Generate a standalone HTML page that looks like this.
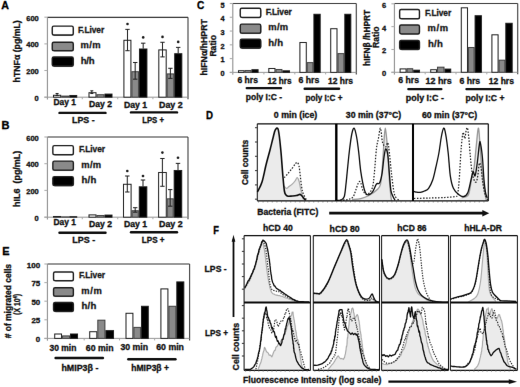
<!DOCTYPE html>
<html><head><meta charset="utf-8"><title>figure</title>
<style>html,body{margin:0;padding:0;background:#fff;}body{width:520px;height:387px;overflow:hidden;}</style>
</head><body><div>
<svg width="520" height="387" viewBox="0 0 520 387" style="font-family:'Liberation Sans', sans-serif;display:block">
<defs><g id="content">
<rect x="-10" y="-10" width="540" height="407" fill="#fff"/>
<text x="1.2" y="9.4" font-size="10.8" font-weight="bold" fill="#000" stroke="#000" stroke-width="0.3" textLength="7.7" lengthAdjust="spacingAndGlyphs" >A</text>
<text x="1.6" y="129.0" font-size="10.8" font-weight="bold" fill="#000" stroke="#000" stroke-width="0.3" textLength="8.0" lengthAdjust="spacingAndGlyphs" >B</text>
<text x="2.3" y="255.3" font-size="10.8" font-weight="bold" fill="#000" stroke="#000" stroke-width="0.3" textLength="7.3" lengthAdjust="spacingAndGlyphs" >E</text>
<text x="197.0" y="9.3" font-size="10.8" font-weight="bold" fill="#000" stroke="#000" stroke-width="0.3" textLength="7.3" lengthAdjust="spacingAndGlyphs" >C</text>
<text x="206.0" y="119.4" font-size="10.8" font-weight="bold" fill="#000" stroke="#000" stroke-width="0.3" textLength="7.0" lengthAdjust="spacingAndGlyphs" >D</text>
<text x="213.3" y="234.3" font-size="10.8" font-weight="bold" fill="#000" stroke="#000" stroke-width="0.3" textLength="5.7" lengthAdjust="spacingAndGlyphs" >F</text>
<line x1="47.4" y1="17.3" x2="188" y2="17.3" stroke="#3a3a3a" stroke-width="1.2" />
<line x1="188" y1="17.3" x2="188" y2="99.2" stroke="#444" stroke-width="1.1" />
<line x1="47.4" y1="17.3" x2="47.4" y2="99.5" stroke="#8a8a8a" stroke-width="1" />
<line x1="44.4" y1="97.2" x2="188" y2="97.2" stroke="#999" stroke-width="1" />
<line x1="44.4" y1="17.2" x2="47.4" y2="17.2" stroke="#aaa" stroke-width="1" />
<line x1="44.4" y1="43.9" x2="47.4" y2="43.9" stroke="#aaa" stroke-width="1" />
<line x1="44.4" y1="70.5" x2="47.4" y2="70.5" stroke="#aaa" stroke-width="1" />
<line x1="44.4" y1="97.2" x2="47.4" y2="97.2" stroke="#aaa" stroke-width="1" />
<line x1="82.3" y1="97.2" x2="82.3" y2="99.2" stroke="#aaa" stroke-width="1" />
<line x1="117.7" y1="97.2" x2="117.7" y2="99.2" stroke="#aaa" stroke-width="1" />
<line x1="152.9" y1="97.2" x2="152.9" y2="99.2" stroke="#aaa" stroke-width="1" />
<text x="26.2" y="21.0" font-size="7.6" font-weight="bold" fill="#111" stroke="#111" stroke-width="0.3" textLength="12.6" lengthAdjust="spacingAndGlyphs" >600</text>
<text x="26.2" y="47.1" font-size="7.6" font-weight="bold" fill="#111" stroke="#111" stroke-width="0.3" textLength="12.6" lengthAdjust="spacingAndGlyphs" >400</text>
<text x="26.2" y="74.2" font-size="7.6" font-weight="bold" fill="#111" stroke="#111" stroke-width="0.3" textLength="12.6" lengthAdjust="spacingAndGlyphs" >200</text>
<text x="34.6" y="100.8" font-size="7.6" font-weight="bold" fill="#111" stroke="#111" stroke-width="0.3" textLength="4.2" lengthAdjust="spacingAndGlyphs" >0</text>
<text transform="translate(19.9,82.4) rotate(-90)" x="0" y="0" font-size="8.6" font-weight="bold" fill="#111" stroke="#111" stroke-width="0.3" textLength="62.1" lengthAdjust="spacingAndGlyphs">hTNFα (pg/mL)</text>
<rect x="52.70" y="26.80" width="21.00" height="9.00" fill="#555" rx="1.8"/>
<rect x="52.25" y="26.15" width="21.00" height="8.80" fill="#fff" stroke="#222" stroke-width="1.4" rx="1.5"/>
<rect x="52.70" y="42.90" width="21.00" height="8.60" fill="#555" rx="1.8"/>
<rect x="52.25" y="42.25" width="21.00" height="8.40" fill="#8a8a8a" stroke="#222" stroke-width="1.4" rx="1.5"/>
<rect x="52.70" y="57.60" width="21.00" height="9.30" fill="#555" rx="1.8"/>
<rect x="52.25" y="56.95" width="21.00" height="9.10" fill="#000" stroke="#222" stroke-width="1.4" rx="1.5"/>
<text x="78.0" y="32.7" font-size="8.4" font-weight="bold" fill="#1a1a1a" stroke="#1a1a1a" stroke-width="0.3" textLength="26.2" lengthAdjust="spacing">F.Liver</text>
<text x="80.4" y="48.4" font-size="9.4" font-weight="bold" fill="#1a1a1a" stroke="#1a1a1a" stroke-width="0.3" textLength="20.2" lengthAdjust="spacing">m/m</text>
<text x="80.7" y="63.9" font-size="9.6" font-weight="bold" fill="#1a1a1a" stroke="#1a1a1a" stroke-width="0.3" textLength="13.9" lengthAdjust="spacing">h/h</text>
<rect x="53.50" y="95.30" width="7.20" height="1.90" fill="#fff" stroke="#222" stroke-width="1"/>
<rect x="61.70" y="96.10" width="7.10" height="1.10" fill="#8a8a8a" stroke="#444" stroke-width="1"/>
<rect x="69.80" y="95.50" width="6.90" height="1.70" fill="#000" stroke="#222" stroke-width="1"/>
<rect x="89.00" y="92.70" width="7.00" height="4.50" fill="#fff" stroke="#222" stroke-width="1"/>
<rect x="97.00" y="94.70" width="7.00" height="2.50" fill="#8a8a8a" stroke="#444" stroke-width="1"/>
<rect x="105.00" y="94.10" width="7.00" height="3.10" fill="#000" stroke="#222" stroke-width="1"/>
<rect x="123.90" y="40.30" width="7.00" height="56.90" fill="#fff" stroke="#222" stroke-width="1"/>
<rect x="131.90" y="71.70" width="6.60" height="25.50" fill="#8a8a8a" stroke="#444" stroke-width="1"/>
<rect x="139.50" y="49.00" width="7.40" height="48.20" fill="#000" stroke="#222" stroke-width="1"/>
<rect x="158.80" y="49.90" width="7.40" height="47.30" fill="#fff" stroke="#222" stroke-width="1"/>
<rect x="167.20" y="73.90" width="6.50" height="23.30" fill="#8a8a8a" stroke="#444" stroke-width="1"/>
<rect x="174.70" y="53.70" width="7.10" height="43.50" fill="#000" stroke="#222" stroke-width="1"/>
<line x1="127.5" y1="29.4" x2="127.5" y2="50.7" stroke="#222" stroke-width="1" />
<line x1="125.3" y1="29.4" x2="129.7" y2="29.4" stroke="#222" stroke-width="1" />
<line x1="125.3" y1="50.7" x2="129.7" y2="50.7" stroke="#222" stroke-width="1" />
<circle cx="127.5" cy="24.0" r="1.3" fill="#222"/>
<line x1="135.2" y1="62.5" x2="135.2" y2="79.2" stroke="#222" stroke-width="1" />
<line x1="133.0" y1="62.5" x2="137.39999999999998" y2="62.5" stroke="#222" stroke-width="1" />
<line x1="133.0" y1="79.2" x2="137.39999999999998" y2="79.2" stroke="#222" stroke-width="1" />
<line x1="143.2" y1="43.2" x2="143.2" y2="48.6" stroke="#222" stroke-width="1" />
<line x1="141.0" y1="43.2" x2="145.39999999999998" y2="43.2" stroke="#222" stroke-width="1" />
<circle cx="143.2" cy="37.4" r="1.3" fill="#222"/>
<line x1="162.5" y1="42.3" x2="162.5" y2="56.9" stroke="#222" stroke-width="1" />
<line x1="160.3" y1="42.3" x2="164.7" y2="42.3" stroke="#222" stroke-width="1" />
<line x1="160.3" y1="56.9" x2="164.7" y2="56.9" stroke="#222" stroke-width="1" />
<circle cx="162.5" cy="36.9" r="1.3" fill="#222"/>
<line x1="170.4" y1="68.3" x2="170.4" y2="78.4" stroke="#222" stroke-width="1" />
<line x1="168.20000000000002" y1="68.3" x2="172.6" y2="68.3" stroke="#222" stroke-width="1" />
<line x1="168.20000000000002" y1="78.4" x2="172.6" y2="78.4" stroke="#222" stroke-width="1" />
<line x1="178.2" y1="47.4" x2="178.2" y2="53.3" stroke="#222" stroke-width="1" />
<line x1="176.0" y1="47.4" x2="180.39999999999998" y2="47.4" stroke="#222" stroke-width="1" />
<circle cx="178.2" cy="41.9" r="1.3" fill="#222"/>
<line x1="57.1" y1="93.5" x2="57.1" y2="95.5" stroke="#222" stroke-width="1" />
<line x1="55.6" y1="93.5" x2="58.6" y2="93.5" stroke="#222" stroke-width="1" />
<line x1="55.6" y1="95.5" x2="58.6" y2="95.5" stroke="#222" stroke-width="1" />
<line x1="91.8" y1="90.8" x2="91.8" y2="93.5" stroke="#222" stroke-width="1" />
<line x1="90.3" y1="90.8" x2="93.3" y2="90.8" stroke="#222" stroke-width="1" />
<line x1="90.3" y1="93.5" x2="93.3" y2="93.5" stroke="#222" stroke-width="1" />
<text x="53.5" y="105.2" font-size="8.6" font-weight="bold" fill="#111" stroke="#111" stroke-width="0.3" textLength="22.5" lengthAdjust="spacingAndGlyphs" >Day 1</text>
<text x="89.0" y="107.2" font-size="8.6" font-weight="bold" fill="#111" stroke="#111" stroke-width="0.3" textLength="23.0" lengthAdjust="spacingAndGlyphs" >Day 2</text>
<text x="124.0" y="107.6" font-size="8.6" font-weight="bold" fill="#111" stroke="#111" stroke-width="0.3" textLength="23.2" lengthAdjust="spacingAndGlyphs" >Day 1</text>
<text x="159.0" y="107.6" font-size="8.6" font-weight="bold" fill="#111" stroke="#111" stroke-width="0.3" textLength="23.6" lengthAdjust="spacingAndGlyphs" >Day 2</text>
<line x1="59.5" y1="112.9" x2="105.5" y2="112.9" stroke="#111" stroke-width="2.4" stroke-linecap="round"/>
<line x1="131" y1="112.4" x2="177" y2="112.4" stroke="#111" stroke-width="2.4" stroke-linecap="round"/>
<text x="72.0" y="123.2" font-size="8.6" font-weight="bold" fill="#111" stroke="#111" stroke-width="0.3" textLength="22.6" lengthAdjust="spacingAndGlyphs" >LPS -</text>
<text x="142.2" y="123.0" font-size="8.6" font-weight="bold" fill="#111" stroke="#111" stroke-width="0.3" textLength="21.8" lengthAdjust="spacingAndGlyphs" >LPS +</text>
<line x1="47.4" y1="137.0" x2="188" y2="137.0" stroke="#3a3a3a" stroke-width="1.2" />
<line x1="188" y1="137.0" x2="188" y2="219.2" stroke="#444" stroke-width="1.1" />
<line x1="47.4" y1="137.0" x2="47.4" y2="219.5" stroke="#8a8a8a" stroke-width="1" />
<line x1="44.4" y1="217.2" x2="188" y2="217.2" stroke="#999" stroke-width="1" />
<line x1="44.4" y1="137.0" x2="47.4" y2="137.0" stroke="#aaa" stroke-width="1" />
<line x1="44.4" y1="163.7" x2="47.4" y2="163.7" stroke="#aaa" stroke-width="1" />
<line x1="44.4" y1="190.4" x2="47.4" y2="190.4" stroke="#aaa" stroke-width="1" />
<line x1="44.4" y1="217.2" x2="47.4" y2="217.2" stroke="#aaa" stroke-width="1" />
<line x1="82.3" y1="217.2" x2="82.3" y2="219.2" stroke="#aaa" stroke-width="1" />
<line x1="117.7" y1="217.2" x2="117.7" y2="219.2" stroke="#aaa" stroke-width="1" />
<line x1="152.9" y1="217.2" x2="152.9" y2="219.2" stroke="#aaa" stroke-width="1" />
<text x="26.2" y="140.5" font-size="7.6" font-weight="bold" fill="#111" stroke="#111" stroke-width="0.3" textLength="12.6" lengthAdjust="spacingAndGlyphs" >600</text>
<text x="26.2" y="166.6" font-size="7.6" font-weight="bold" fill="#111" stroke="#111" stroke-width="0.3" textLength="12.6" lengthAdjust="spacingAndGlyphs" >400</text>
<text x="26.2" y="194.3" font-size="7.6" font-weight="bold" fill="#111" stroke="#111" stroke-width="0.3" textLength="12.6" lengthAdjust="spacingAndGlyphs" >200</text>
<text x="34.6" y="220.8" font-size="7.6" font-weight="bold" fill="#111" stroke="#111" stroke-width="0.3" textLength="4.2" lengthAdjust="spacingAndGlyphs" >0</text>
<text transform="translate(19.8,207.0) rotate(-90)" x="0" y="0" font-size="8.6" font-weight="bold" fill="#111" stroke="#111" stroke-width="0.3" textLength="56.3" lengthAdjust="spacingAndGlyphs">hIL6  (pg/mL)</text>
<rect x="53.30" y="146.30" width="20.50" height="9.20" fill="#555" rx="1.8"/>
<rect x="52.85" y="145.65" width="20.50" height="9.00" fill="#fff" stroke="#222" stroke-width="1.4" rx="1.5"/>
<rect x="53.30" y="161.80" width="20.50" height="9.20" fill="#555" rx="1.8"/>
<rect x="52.85" y="161.15" width="20.50" height="9.00" fill="#8a8a8a" stroke="#222" stroke-width="1.4" rx="1.5"/>
<rect x="53.30" y="177.30" width="20.50" height="9.00" fill="#555" rx="1.8"/>
<rect x="52.85" y="176.65" width="20.50" height="8.80" fill="#000" stroke="#222" stroke-width="1.4" rx="1.5"/>
<text x="78.9" y="152.0" font-size="8.4" font-weight="bold" fill="#1a1a1a" stroke="#1a1a1a" stroke-width="0.3" textLength="26.2" lengthAdjust="spacing">F.Liver</text>
<text x="81.2" y="167.5" font-size="9.4" font-weight="bold" fill="#1a1a1a" stroke="#1a1a1a" stroke-width="0.3" textLength="20.0" lengthAdjust="spacing">m/m</text>
<text x="81.4" y="183.0" font-size="9.6" font-weight="bold" fill="#1a1a1a" stroke="#1a1a1a" stroke-width="0.3" textLength="15.0" lengthAdjust="spacing">h/h</text>
<rect x="53.50" y="216.50" width="7.20" height="0.70" fill="#fff" stroke="#222" stroke-width="1"/>
<rect x="61.70" y="216.90" width="7.10" height="0.30" fill="#8a8a8a" stroke="#444" stroke-width="1"/>
<rect x="69.80" y="216.70" width="6.90" height="0.50" fill="#000" stroke="#222" stroke-width="1"/>
<rect x="89.00" y="214.90" width="7.00" height="2.30" fill="#fff" stroke="#222" stroke-width="1"/>
<rect x="97.00" y="215.50" width="7.00" height="1.70" fill="#8a8a8a" stroke="#444" stroke-width="1"/>
<rect x="105.00" y="215.10" width="7.00" height="2.10" fill="#000" stroke="#222" stroke-width="1"/>
<rect x="123.50" y="184.30" width="7.60" height="32.90" fill="#fff" stroke="#222" stroke-width="1"/>
<rect x="132.10" y="210.70" width="6.20" height="6.50" fill="#8a8a8a" stroke="#444" stroke-width="1"/>
<rect x="139.30" y="186.80" width="7.50" height="30.40" fill="#000" stroke="#222" stroke-width="1"/>
<rect x="158.60" y="172.50" width="7.70" height="44.70" fill="#fff" stroke="#222" stroke-width="1"/>
<rect x="167.30" y="198.80" width="5.90" height="18.40" fill="#8a8a8a" stroke="#444" stroke-width="1"/>
<rect x="174.20" y="170.50" width="7.50" height="46.70" fill="#000" stroke="#222" stroke-width="1"/>
<line x1="127.3" y1="176.0" x2="127.3" y2="192.0" stroke="#222" stroke-width="1" />
<line x1="125.1" y1="176.0" x2="129.5" y2="176.0" stroke="#222" stroke-width="1" />
<line x1="125.1" y1="192.0" x2="129.5" y2="192.0" stroke="#222" stroke-width="1" />
<circle cx="127.3" cy="171.0" r="1.3" fill="#222"/>
<line x1="135.2" y1="207.7" x2="135.2" y2="212.2" stroke="#222" stroke-width="1" />
<line x1="133.0" y1="207.7" x2="137.39999999999998" y2="207.7" stroke="#222" stroke-width="1" />
<line x1="133.0" y1="212.2" x2="137.39999999999998" y2="212.2" stroke="#222" stroke-width="1" />
<line x1="143.0" y1="180.0" x2="143.0" y2="186.4" stroke="#222" stroke-width="1" />
<line x1="140.8" y1="180.0" x2="145.2" y2="180.0" stroke="#222" stroke-width="1" />
<circle cx="143.0" cy="176.0" r="1.3" fill="#222"/>
<line x1="162.4" y1="158.5" x2="162.4" y2="186.3" stroke="#222" stroke-width="1" />
<line x1="160.20000000000002" y1="158.5" x2="164.6" y2="158.5" stroke="#222" stroke-width="1" />
<line x1="160.20000000000002" y1="186.3" x2="164.6" y2="186.3" stroke="#222" stroke-width="1" />
<circle cx="162.4" cy="152.6" r="1.3" fill="#222"/>
<line x1="170.2" y1="189.6" x2="170.2" y2="206.2" stroke="#222" stroke-width="1" />
<line x1="168.0" y1="189.6" x2="172.39999999999998" y2="189.6" stroke="#222" stroke-width="1" />
<line x1="168.0" y1="206.2" x2="172.39999999999998" y2="206.2" stroke="#222" stroke-width="1" />
<line x1="178.0" y1="163.4" x2="178.0" y2="170.1" stroke="#222" stroke-width="1" />
<line x1="175.8" y1="163.4" x2="180.2" y2="163.4" stroke="#222" stroke-width="1" />
<circle cx="178.0" cy="157.7" r="1.3" fill="#222"/>
<text x="53.5" y="225.3" font-size="8.6" font-weight="bold" fill="#111" stroke="#111" stroke-width="0.3" textLength="22.5" lengthAdjust="spacingAndGlyphs" >Day 1</text>
<text x="89.0" y="227.0" font-size="8.6" font-weight="bold" fill="#111" stroke="#111" stroke-width="0.3" textLength="23.0" lengthAdjust="spacingAndGlyphs" >Day 2</text>
<text x="124.0" y="227.4" font-size="8.6" font-weight="bold" fill="#111" stroke="#111" stroke-width="0.3" textLength="23.2" lengthAdjust="spacingAndGlyphs" >Day 1</text>
<text x="159.0" y="227.4" font-size="8.6" font-weight="bold" fill="#111" stroke="#111" stroke-width="0.3" textLength="23.6" lengthAdjust="spacingAndGlyphs" >Day 2</text>
<line x1="59.5" y1="232.7" x2="105.5" y2="232.7" stroke="#111" stroke-width="2.4" stroke-linecap="round"/>
<line x1="131" y1="232.2" x2="177" y2="232.2" stroke="#111" stroke-width="2.4" stroke-linecap="round"/>
<text x="72.3" y="242.8" font-size="8.6" font-weight="bold" fill="#111" stroke="#111" stroke-width="0.3" textLength="22.9" lengthAdjust="spacingAndGlyphs" >LPS -</text>
<text x="141.8" y="242.8" font-size="8.6" font-weight="bold" fill="#111" stroke="#111" stroke-width="0.3" textLength="22.8" lengthAdjust="spacingAndGlyphs" >LPS +</text>
<line x1="47.4" y1="264.0" x2="189.6" y2="264.0" stroke="#3a3a3a" stroke-width="1.2" />
<line x1="189.6" y1="264.0" x2="189.6" y2="340.4" stroke="#444" stroke-width="1.1" />
<line x1="47.4" y1="264.0" x2="47.4" y2="340.7" stroke="#8a8a8a" stroke-width="1" />
<line x1="44.4" y1="338.4" x2="189.6" y2="338.4" stroke="#999" stroke-width="1" />
<line x1="44.4" y1="264.0" x2="47.4" y2="264.0" stroke="#aaa" stroke-width="1" />
<line x1="44.4" y1="282.6" x2="47.4" y2="282.6" stroke="#aaa" stroke-width="1" />
<line x1="44.4" y1="301.2" x2="47.4" y2="301.2" stroke="#aaa" stroke-width="1" />
<line x1="44.4" y1="319.8" x2="47.4" y2="319.8" stroke="#aaa" stroke-width="1" />
<line x1="44.4" y1="338.4" x2="47.4" y2="338.4" stroke="#aaa" stroke-width="1" />
<line x1="84.2" y1="338.4" x2="84.2" y2="340.4" stroke="#aaa" stroke-width="1" />
<line x1="119.5" y1="338.4" x2="119.5" y2="340.4" stroke="#aaa" stroke-width="1" />
<line x1="154.6" y1="338.4" x2="154.6" y2="340.4" stroke="#aaa" stroke-width="1" />
<text x="26.8" y="268.2" font-size="7.6" font-weight="bold" fill="#111" stroke="#111" stroke-width="0.3" textLength="13.4" lengthAdjust="spacingAndGlyphs" >100</text>
<text x="31.4" y="286.4" font-size="7.6" font-weight="bold" fill="#111" stroke="#111" stroke-width="0.3" textLength="8.8" lengthAdjust="spacingAndGlyphs" >75</text>
<text x="31.4" y="304.8" font-size="7.6" font-weight="bold" fill="#111" stroke="#111" stroke-width="0.3" textLength="8.8" lengthAdjust="spacingAndGlyphs" >50</text>
<text x="31.4" y="323.4" font-size="7.6" font-weight="bold" fill="#111" stroke="#111" stroke-width="0.3" textLength="8.8" lengthAdjust="spacingAndGlyphs" >25</text>
<text x="35.8" y="341.6" font-size="7.6" font-weight="bold" fill="#111" stroke="#111" stroke-width="0.3" textLength="4.4" lengthAdjust="spacingAndGlyphs" >0</text>
<text transform="translate(11.0,338.3) rotate(-90)" x="0" y="0" font-size="8.6" font-weight="bold" fill="#111" stroke="#111" stroke-width="0.3" textLength="74.3" lengthAdjust="spacingAndGlyphs"># of migrated cells</text>
<text transform="translate(20.4,314.8) rotate(-90)" x="0" y="0" font-size="9.3" font-weight="bold" fill="#111" stroke="#111" stroke-width="0.3" textLength="20.9" lengthAdjust="spacingAndGlyphs">(X 10<tspan font-size="5.6" dy="-3">4</tspan><tspan dy="3">)</tspan></text>
<rect x="54.00" y="272.60" width="19.80" height="8.90" fill="#555" rx="1.8"/>
<rect x="53.55" y="271.95" width="19.80" height="8.70" fill="#fff" stroke="#222" stroke-width="1.4" rx="1.5"/>
<rect x="54.00" y="288.40" width="19.80" height="8.60" fill="#555" rx="1.8"/>
<rect x="53.55" y="287.75" width="19.80" height="8.40" fill="#8a8a8a" stroke="#222" stroke-width="1.4" rx="1.5"/>
<rect x="54.00" y="303.20" width="19.80" height="9.00" fill="#555" rx="1.8"/>
<rect x="53.55" y="302.55" width="19.80" height="8.80" fill="#000" stroke="#222" stroke-width="1.4" rx="1.5"/>
<text x="78.9" y="278.3" font-size="8.4" font-weight="bold" fill="#1a1a1a" stroke="#1a1a1a" stroke-width="0.3" textLength="26.2" lengthAdjust="spacing">F.Liver</text>
<text x="81.2" y="293.7" font-size="9.4" font-weight="bold" fill="#1a1a1a" stroke="#1a1a1a" stroke-width="0.3" textLength="20.6" lengthAdjust="spacing">m/m</text>
<text x="81.4" y="308.9" font-size="9.6" font-weight="bold" fill="#1a1a1a" stroke="#1a1a1a" stroke-width="0.3" textLength="15.0" lengthAdjust="spacing">h/h</text>
<rect x="54.70" y="334.00" width="6.80" height="4.40" fill="#fff" stroke="#222" stroke-width="1"/>
<rect x="62.50" y="335.90" width="7.00" height="2.50" fill="#8a8a8a" stroke="#444" stroke-width="1"/>
<rect x="70.50" y="334.00" width="7.00" height="4.40" fill="#000" stroke="#222" stroke-width="1"/>
<rect x="89.70" y="331.70" width="7.10" height="6.70" fill="#fff" stroke="#222" stroke-width="1"/>
<rect x="97.80" y="320.20" width="7.10" height="18.20" fill="#8a8a8a" stroke="#444" stroke-width="1"/>
<rect x="105.90" y="330.60" width="7.60" height="7.80" fill="#000" stroke="#222" stroke-width="1"/>
<rect x="126.00" y="313.30" width="6.90" height="25.10" fill="#fff" stroke="#222" stroke-width="1"/>
<rect x="133.90" y="327.40" width="6.60" height="11.00" fill="#8a8a8a" stroke="#444" stroke-width="1"/>
<rect x="141.50" y="306.30" width="6.80" height="32.10" fill="#000" stroke="#222" stroke-width="1"/>
<rect x="160.90" y="288.90" width="7.00" height="49.50" fill="#fff" stroke="#222" stroke-width="1"/>
<rect x="168.90" y="306.30" width="6.90" height="32.10" fill="#8a8a8a" stroke="#444" stroke-width="1"/>
<rect x="176.80" y="281.90" width="7.00" height="56.50" fill="#000" stroke="#222" stroke-width="1"/>
<text x="49.5" y="350.6" font-size="8.6" font-weight="bold" fill="#111" stroke="#111" stroke-width="0.3" textLength="26.9" lengthAdjust="spacingAndGlyphs" >30 min</text>
<text x="85.8" y="351.3" font-size="8.6" font-weight="bold" fill="#111" stroke="#111" stroke-width="0.3" textLength="27.7" lengthAdjust="spacingAndGlyphs" >60 min</text>
<text x="120.4" y="350.3" font-size="8.6" font-weight="bold" fill="#111" stroke="#111" stroke-width="0.3" textLength="27.7" lengthAdjust="spacingAndGlyphs" >30 min</text>
<text x="156.2" y="350.3" font-size="8.6" font-weight="bold" fill="#111" stroke="#111" stroke-width="0.3" textLength="27.8" lengthAdjust="spacingAndGlyphs" >60 min</text>
<line x1="55.6" y1="358.0" x2="102.9" y2="358.0" stroke="#111" stroke-width="2.4" stroke-linecap="round"/>
<line x1="128.3" y1="359.2" x2="175.5" y2="359.2" stroke="#111" stroke-width="2.4" stroke-linecap="round"/>
<text x="61.4" y="370.8" font-size="8.6" font-weight="bold" fill="#111" stroke="#111" stroke-width="0.3" textLength="37.0" lengthAdjust="spacingAndGlyphs" >hMIP3β -</text>
<text x="131.3" y="370.8" font-size="8.6" font-weight="bold" fill="#111" stroke="#111" stroke-width="0.3" textLength="37.6" lengthAdjust="spacingAndGlyphs" >hMIP3β +</text>
<line x1="232.8" y1="3.5" x2="356.3" y2="3.5" stroke="#3a3a3a" stroke-width="1.2" />
<line x1="356.3" y1="3.5" x2="356.3" y2="74.4" stroke="#444" stroke-width="1.1" />
<line x1="232.8" y1="3.5" x2="232.8" y2="74.7" stroke="#8a8a8a" stroke-width="1" />
<line x1="229.8" y1="72.4" x2="356.3" y2="72.4" stroke="#999" stroke-width="1" />
<line x1="229.8" y1="72.4" x2="232.8" y2="72.4" stroke="#aaa" stroke-width="1" />
<line x1="229.8" y1="58.620000000000005" x2="232.8" y2="58.620000000000005" stroke="#aaa" stroke-width="1" />
<line x1="229.8" y1="44.84" x2="232.8" y2="44.84" stroke="#aaa" stroke-width="1" />
<line x1="229.8" y1="31.06000000000001" x2="232.8" y2="31.06000000000001" stroke="#aaa" stroke-width="1" />
<line x1="229.8" y1="17.28000000000001" x2="232.8" y2="17.28000000000001" stroke="#aaa" stroke-width="1" />
<line x1="229.8" y1="3.500000000000014" x2="232.8" y2="3.500000000000014" stroke="#aaa" stroke-width="1" />
<line x1="263.9" y1="72.4" x2="263.9" y2="74.4" stroke="#aaa" stroke-width="1" />
<line x1="294.8" y1="72.4" x2="294.8" y2="74.4" stroke="#aaa" stroke-width="1" />
<line x1="325.6" y1="72.4" x2="325.6" y2="74.4" stroke="#aaa" stroke-width="1" />
<text x="220.5" y="75.8" font-size="7.6" font-weight="bold" fill="#111" stroke="#111" stroke-width="0.3" textLength="4.1" lengthAdjust="spacingAndGlyphs" >0</text>
<text x="220.5" y="62.2" font-size="7.6" font-weight="bold" fill="#111" stroke="#111" stroke-width="0.3" textLength="4.1" lengthAdjust="spacingAndGlyphs" >1</text>
<text x="220.5" y="48.6" font-size="7.6" font-weight="bold" fill="#111" stroke="#111" stroke-width="0.3" textLength="4.1" lengthAdjust="spacingAndGlyphs" >2</text>
<text x="220.5" y="35.0" font-size="7.6" font-weight="bold" fill="#111" stroke="#111" stroke-width="0.3" textLength="4.1" lengthAdjust="spacingAndGlyphs" >3</text>
<text x="220.5" y="21.4" font-size="7.6" font-weight="bold" fill="#111" stroke="#111" stroke-width="0.3" textLength="4.1" lengthAdjust="spacingAndGlyphs" >4</text>
<text x="220.5" y="7.8" font-size="7.6" font-weight="bold" fill="#111" stroke="#111" stroke-width="0.3" textLength="4.1" lengthAdjust="spacingAndGlyphs" >5</text>
<text transform="translate(207.4,75.5) rotate(-90)" x="0" y="0" font-size="8.8" font-weight="bold" fill="#111" stroke="#111" stroke-width="0.3" textLength="56.3" lengthAdjust="spacingAndGlyphs">hIFNα/hHPRT</text>
<text transform="translate(216.3,56.6) rotate(-90)" x="0" y="0" font-size="8.7" font-weight="bold" fill="#111" stroke="#111" stroke-width="0.3" textLength="21.5" lengthAdjust="spacingAndGlyphs">Ratio</text>
<rect x="240.70" y="8.90" width="20.50" height="9.30" fill="#555" rx="1.8"/>
<rect x="240.25" y="8.25" width="20.50" height="9.10" fill="#fff" stroke="#222" stroke-width="1.4" rx="1.5"/>
<rect x="240.70" y="24.80" width="20.50" height="9.20" fill="#555" rx="1.8"/>
<rect x="240.25" y="24.15" width="20.50" height="9.00" fill="#8a8a8a" stroke="#222" stroke-width="1.4" rx="1.5"/>
<rect x="240.70" y="39.90" width="20.50" height="9.00" fill="#555" rx="1.8"/>
<rect x="240.25" y="39.25" width="20.50" height="8.80" fill="#000" stroke="#222" stroke-width="1.4" rx="1.5"/>
<text x="265.7" y="14.9" font-size="8.4" font-weight="bold" fill="#1a1a1a" stroke="#1a1a1a" stroke-width="0.3" textLength="26.1" lengthAdjust="spacing">F.Liver</text>
<text x="268.3" y="30.4" font-size="9.4" font-weight="bold" fill="#1a1a1a" stroke="#1a1a1a" stroke-width="0.3" textLength="19.9" lengthAdjust="spacing">m/m</text>
<text x="268.3" y="45.9" font-size="9.6" font-weight="bold" fill="#1a1a1a" stroke="#1a1a1a" stroke-width="0.3" textLength="14.7" lengthAdjust="spacing">h/h</text>
<rect x="238.50" y="70.70" width="5.60" height="1.70" fill="#fff" stroke="#222" stroke-width="1"/>
<rect x="245.10" y="70.50" width="5.80" height="1.90" fill="#8a8a8a" stroke="#444" stroke-width="1"/>
<rect x="251.90" y="69.70" width="6.20" height="2.70" fill="#000" stroke="#222" stroke-width="1"/>
<rect x="268.80" y="68.50" width="6.20" height="3.90" fill="#fff" stroke="#222" stroke-width="1"/>
<rect x="276.00" y="69.50" width="5.90" height="2.90" fill="#8a8a8a" stroke="#444" stroke-width="1"/>
<rect x="282.90" y="70.80" width="6.60" height="1.60" fill="#000" stroke="#222" stroke-width="1"/>
<rect x="299.90" y="42.50" width="6.40" height="29.90" fill="#fff" stroke="#222" stroke-width="1"/>
<rect x="307.30" y="62.60" width="5.60" height="9.80" fill="#8a8a8a" stroke="#444" stroke-width="1"/>
<rect x="313.90" y="14.30" width="6.30" height="58.10" fill="#000" stroke="#222" stroke-width="1"/>
<rect x="330.70" y="28.70" width="6.30" height="43.70" fill="#fff" stroke="#222" stroke-width="1"/>
<rect x="338.00" y="53.60" width="5.80" height="18.80" fill="#8a8a8a" stroke="#444" stroke-width="1"/>
<rect x="344.80" y="14.30" width="6.00" height="58.10" fill="#000" stroke="#222" stroke-width="1"/>
<text x="237.5" y="83.0" font-size="8.6" font-weight="bold" fill="#111" stroke="#111" stroke-width="0.3" textLength="20.4" lengthAdjust="spacingAndGlyphs" >6 hrs</text>
<text x="267.4" y="83.6" font-size="8.6" font-weight="bold" fill="#111" stroke="#111" stroke-width="0.3" textLength="24.2" lengthAdjust="spacingAndGlyphs" >12 hrs</text>
<text x="298.5" y="83.2" font-size="8.6" font-weight="bold" fill="#111" stroke="#111" stroke-width="0.3" textLength="20.8" lengthAdjust="spacingAndGlyphs" >6 hrs</text>
<text x="328.0" y="83.7" font-size="8.6" font-weight="bold" fill="#111" stroke="#111" stroke-width="0.3" textLength="25.0" lengthAdjust="spacingAndGlyphs" >12 hrs</text>
<line x1="246.8" y1="88.1" x2="281.0" y2="88.1" stroke="#111" stroke-width="2.4" stroke-linecap="round"/>
<line x1="304.7" y1="88.8" x2="339.0" y2="88.8" stroke="#111" stroke-width="2.4" stroke-linecap="round"/>
<text x="245.8" y="100.2" font-size="8.6" font-weight="bold" fill="#111" stroke="#111" stroke-width="0.3" textLength="36.2" lengthAdjust="spacingAndGlyphs" >poly I:C -</text>
<text x="305.5" y="100.5" font-size="8.6" font-weight="bold" fill="#111" stroke="#111" stroke-width="0.3" textLength="37.0" lengthAdjust="spacingAndGlyphs" >poly I:C +</text>
<line x1="394.4" y1="3.5" x2="517.7" y2="3.5" stroke="#3a3a3a" stroke-width="1.2" />
<line x1="517.7" y1="3.5" x2="517.7" y2="74.3" stroke="#444" stroke-width="1.1" />
<line x1="394.4" y1="3.5" x2="394.4" y2="74.6" stroke="#8a8a8a" stroke-width="1" />
<line x1="391.4" y1="72.3" x2="517.7" y2="72.3" stroke="#999" stroke-width="1" />
<line x1="391.4" y1="72.3" x2="394.4" y2="72.3" stroke="#aaa" stroke-width="1" />
<line x1="391.4" y1="49.47" x2="394.4" y2="49.47" stroke="#aaa" stroke-width="1" />
<line x1="391.4" y1="26.64" x2="394.4" y2="26.64" stroke="#aaa" stroke-width="1" />
<line x1="391.4" y1="3.8100000000000023" x2="394.4" y2="3.8100000000000023" stroke="#aaa" stroke-width="1" />
<line x1="425.2" y1="72.3" x2="425.2" y2="74.3" stroke="#aaa" stroke-width="1" />
<line x1="456.0" y1="72.3" x2="456.0" y2="74.3" stroke="#aaa" stroke-width="1" />
<line x1="486.8" y1="72.3" x2="486.8" y2="74.3" stroke="#aaa" stroke-width="1" />
<text x="382.0" y="75.7" font-size="7.6" font-weight="bold" fill="#111" stroke="#111" stroke-width="0.3" textLength="4.2" lengthAdjust="spacingAndGlyphs" >0</text>
<text x="382.0" y="53.1" font-size="7.6" font-weight="bold" fill="#111" stroke="#111" stroke-width="0.3" textLength="4.2" lengthAdjust="spacingAndGlyphs" >2</text>
<text x="382.0" y="30.5" font-size="7.6" font-weight="bold" fill="#111" stroke="#111" stroke-width="0.3" textLength="4.2" lengthAdjust="spacingAndGlyphs" >4</text>
<text x="382.0" y="7.9" font-size="7.6" font-weight="bold" fill="#111" stroke="#111" stroke-width="0.3" textLength="4.2" lengthAdjust="spacingAndGlyphs" >6</text>
<text transform="translate(369.5,65.9) rotate(-90)" x="0" y="0" font-size="8.4" font-weight="bold" fill="#111" stroke="#111" stroke-width="0.3" textLength="56.0" lengthAdjust="spacingAndGlyphs">hIFNβ /hHPRT</text>
<text transform="translate(378.8,47.9) rotate(-90)" x="0" y="0" font-size="8.3" font-weight="bold" fill="#111" stroke="#111" stroke-width="0.3" textLength="21.5" lengthAdjust="spacingAndGlyphs">Ratio</text>
<rect x="400.10" y="10.20" width="19.80" height="9.30" fill="#555" rx="1.8"/>
<rect x="399.65" y="9.55" width="19.80" height="9.10" fill="#fff" stroke="#222" stroke-width="1.4" rx="1.5"/>
<rect x="400.10" y="25.70" width="19.80" height="9.00" fill="#555" rx="1.8"/>
<rect x="399.65" y="25.05" width="19.80" height="8.80" fill="#8a8a8a" stroke="#222" stroke-width="1.4" rx="1.5"/>
<rect x="400.10" y="41.20" width="19.80" height="9.00" fill="#555" rx="1.8"/>
<rect x="399.65" y="40.55" width="19.80" height="8.80" fill="#000" stroke="#222" stroke-width="1.4" rx="1.5"/>
<text x="425.0" y="15.9" font-size="8.4" font-weight="bold" fill="#1a1a1a" stroke="#1a1a1a" stroke-width="0.3" textLength="26.2" lengthAdjust="spacing">F.Liver</text>
<text x="427.6" y="31.2" font-size="9.4" font-weight="bold" fill="#1a1a1a" stroke="#1a1a1a" stroke-width="0.3" textLength="20.4" lengthAdjust="spacing">m/m</text>
<text x="428.0" y="46.5" font-size="9.6" font-weight="bold" fill="#1a1a1a" stroke="#1a1a1a" stroke-width="0.3" textLength="14.8" lengthAdjust="spacing">h/h</text>
<rect x="400.10" y="68.90" width="6.00" height="3.40" fill="#fff" stroke="#222" stroke-width="1"/>
<rect x="407.10" y="68.70" width="5.60" height="3.60" fill="#8a8a8a" stroke="#444" stroke-width="1"/>
<rect x="413.70" y="70.20" width="5.80" height="2.10" fill="#000" stroke="#222" stroke-width="1"/>
<rect x="430.70" y="69.70" width="5.80" height="2.60" fill="#fff" stroke="#222" stroke-width="1"/>
<rect x="437.50" y="67.20" width="6.50" height="5.10" fill="#8a8a8a" stroke="#444" stroke-width="1"/>
<rect x="445.00" y="69.10" width="5.70" height="3.20" fill="#000" stroke="#222" stroke-width="1"/>
<rect x="461.30" y="7.80" width="6.20" height="64.50" fill="#fff" stroke="#222" stroke-width="1"/>
<rect x="468.50" y="47.50" width="5.60" height="24.80" fill="#8a8a8a" stroke="#444" stroke-width="1"/>
<rect x="475.10" y="15.70" width="6.30" height="56.60" fill="#000" stroke="#222" stroke-width="1"/>
<rect x="491.90" y="34.80" width="6.20" height="37.50" fill="#fff" stroke="#222" stroke-width="1"/>
<rect x="499.10" y="60.20" width="5.70" height="12.10" fill="#8a8a8a" stroke="#444" stroke-width="1"/>
<rect x="505.80" y="23.30" width="6.40" height="49.00" fill="#000" stroke="#222" stroke-width="1"/>
<text x="398.3" y="83.2" font-size="8.6" font-weight="bold" fill="#111" stroke="#111" stroke-width="0.3" textLength="20.7" lengthAdjust="spacingAndGlyphs" >6 hrs</text>
<text x="425.5" y="83.6" font-size="8.6" font-weight="bold" fill="#111" stroke="#111" stroke-width="0.3" textLength="26.3" lengthAdjust="spacingAndGlyphs" >12 hrs</text>
<text x="459.4" y="83.6" font-size="8.6" font-weight="bold" fill="#111" stroke="#111" stroke-width="0.3" textLength="20.8" lengthAdjust="spacingAndGlyphs" >6 hrs</text>
<text x="488.8" y="84.0" font-size="8.6" font-weight="bold" fill="#111" stroke="#111" stroke-width="0.3" textLength="25.1" lengthAdjust="spacingAndGlyphs" >12 hrs</text>
<line x1="408.4" y1="89.1" x2="441.3" y2="89.1" stroke="#111" stroke-width="2.4" stroke-linecap="round"/>
<line x1="466.5" y1="89.1" x2="500.0" y2="89.1" stroke="#111" stroke-width="2.4" stroke-linecap="round"/>
<text x="405.8" y="100.7" font-size="8.6" font-weight="bold" fill="#111" stroke="#111" stroke-width="0.3" textLength="38.1" lengthAdjust="spacingAndGlyphs" >poly I:C -</text>
<text x="465.5" y="101.3" font-size="8.6" font-weight="bold" fill="#111" stroke="#111" stroke-width="0.3" textLength="38.9" lengthAdjust="spacingAndGlyphs" >poly I:C +</text>
<text x="273.8" y="117.6" font-size="8.6" font-weight="bold" fill="#111" stroke="#111" stroke-width="0.3" textLength="43.5" lengthAdjust="spacingAndGlyphs" >0 min (ice)</text>
<text x="345.8" y="117.6" font-size="8.6" font-weight="bold" fill="#111" stroke="#111" stroke-width="0.3" textLength="55.4" lengthAdjust="spacingAndGlyphs" >30 min (37°C)</text>
<text x="421.9" y="118.0" font-size="8.6" font-weight="bold" fill="#111" stroke="#111" stroke-width="0.3" textLength="55.4" lengthAdjust="spacingAndGlyphs" >60 min (37°C)</text>
<text transform="translate(248.4,185.1) rotate(-90)" x="0" y="0" font-size="8.4" font-weight="bold" fill="#111" stroke="#111" stroke-width="0.3" textLength="45.3" lengthAdjust="spacingAndGlyphs">Cell counts</text>
<text x="257.3" y="214.6" font-size="8.6" font-weight="bold" fill="#111" stroke="#111" stroke-width="0.3" textLength="61.0" lengthAdjust="spacingAndGlyphs" >Bacteria (FITC)</text>
<line x1="329.2" y1="213.2" x2="484" y2="213.2" stroke="#111" stroke-width="2.8" />
<polygon points="482.3,209.9 489.2,213.2 482.3,216.5" fill="#111"/>
<path d="M257.50,200.90 L257.50,192.00 C258.25,190.33 260.58,186.50 262.00,182.00 C263.42,177.50 264.67,170.33 266.00,165.00 C267.33,159.67 268.83,154.50 270.00,150.00 C271.17,145.50 272.12,141.35 273.00,138.00 C273.88,134.65 274.42,131.25 275.30,129.90 C276.18,128.55 277.38,126.55 278.30,129.90 C279.22,133.25 280.05,142.98 280.80,150.00 C281.55,157.02 282.27,166.00 282.80,172.00 C283.33,178.00 283.38,183.27 284.00,186.00 C284.62,188.73 285.67,188.32 286.50,188.40 C287.33,188.48 288.05,187.22 289.00,186.50 C289.95,185.78 291.20,185.02 292.20,184.10 C293.20,183.18 294.17,182.07 295.00,181.00 C295.83,179.93 296.53,177.70 297.20,177.70 C297.87,177.70 298.48,179.45 299.00,181.00 C299.52,182.55 299.88,185.08 300.30,187.00 C300.72,188.92 301.30,191.58 301.50,192.50 L303.50,200.90 Z" fill="#ebebeb"/>
<path d="M284.00,186.00 C284.42,186.40 285.67,188.32 286.50,188.40 C287.33,188.48 288.05,187.22 289.00,186.50 C289.95,185.78 291.20,185.02 292.20,184.10 C293.20,183.18 294.17,182.07 295.00,181.00 C295.83,179.93 296.53,177.70 297.20,177.70 C297.87,177.70 298.48,179.45 299.00,181.00 C299.52,182.55 299.88,185.08 300.30,187.00 C300.72,188.92 300.97,190.42 301.50,192.50 C302.03,194.58 303.17,198.33 303.50,199.50" fill="none" stroke="#aaa" stroke-width="1.2" stroke-linejoin="round" stroke-linecap="butt"/>
<path d="M284.20,177.70 C284.83,177.00 286.70,175.03 288.00,173.50 C289.30,171.97 290.78,170.08 292.00,168.50 C293.22,166.92 294.43,165.00 295.30,164.00 C296.17,163.00 296.58,162.17 297.20,162.50 C297.82,162.83 298.48,163.75 299.00,166.00 C299.52,168.25 299.88,172.67 300.30,176.00 C300.72,179.33 301.05,183.17 301.50,186.00 C301.95,188.83 302.18,190.70 303.00,193.00 C303.82,195.30 305.83,198.67 306.40,199.80" fill="none" stroke="#222" stroke-width="1.2" stroke-dasharray="1.5,1.5" stroke-linejoin="round" stroke-linecap="butt"/>
<path d="M257.50,192.00 C258.25,190.33 260.58,186.50 262.00,182.00 C263.42,177.50 264.67,170.33 266.00,165.00 C267.33,159.67 268.83,154.50 270.00,150.00 C271.17,145.50 272.12,141.35 273.00,138.00 C273.88,134.65 274.42,131.25 275.30,129.90 C276.18,128.55 277.38,126.55 278.30,129.90 C279.22,133.25 280.05,142.48 280.80,150.00 C281.55,157.52 282.20,168.17 282.80,175.00 C283.40,181.83 283.87,187.67 284.40,191.00 C284.93,194.33 285.40,194.13 286.00,195.00 C286.60,195.87 287.00,196.03 288.00,196.20 C289.00,196.37 290.58,196.12 292.00,196.00 C293.42,195.88 295.17,195.77 296.50,195.50 C297.83,195.23 299.08,194.32 300.00,194.40 C300.92,194.48 301.33,195.32 302.00,196.00 C302.67,196.68 303.38,197.78 304.00,198.50 C304.62,199.22 305.42,200.00 305.70,200.30" fill="none" stroke="#111" stroke-width="1.6" stroke-linejoin="round" stroke-linecap="butt"/>
<path d="M345.00,200.90 L352.00,199.50 C353.47,199.35 357.97,199.27 360.80,198.60 C363.63,197.93 366.40,196.88 369.00,195.50 C371.60,194.12 374.48,192.20 376.40,190.30 C378.32,188.40 379.47,188.58 380.50,184.10 C381.53,179.62 381.98,171.08 382.60,163.40 C383.22,155.72 383.75,143.87 384.20,138.00 C384.65,132.13 384.90,128.20 385.30,128.20 C385.70,128.20 386.18,133.87 386.60,138.00 C387.02,142.13 387.33,146.00 387.80,153.00 C388.27,160.00 388.88,172.75 389.40,180.00 C389.92,187.25 390.65,193.75 390.90,196.50 L391.80,200.90 Z" fill="#ebebeb"/>
<path d="M352.00,199.50 C353.47,199.35 357.97,199.27 360.80,198.60 C363.63,197.93 366.40,196.88 369.00,195.50 C371.60,194.12 374.48,192.20 376.40,190.30 C378.32,188.40 379.47,188.58 380.50,184.10 C381.53,179.62 381.98,171.08 382.60,163.40 C383.22,155.72 383.75,143.87 384.20,138.00 C384.65,132.13 384.90,128.20 385.30,128.20 C385.70,128.20 386.18,133.87 386.60,138.00 C387.02,142.13 387.33,146.00 387.80,153.00 C388.27,160.00 388.88,172.75 389.40,180.00 C389.92,187.25 390.50,193.02 390.90,196.50 C391.30,199.98 391.65,200.17 391.80,200.90" fill="none" stroke="#999" stroke-width="1.3" stroke-linejoin="round" stroke-linecap="butt"/>
<path d="M340.00,200.20 C341.33,200.08 345.83,200.03 348.00,199.50 C350.17,198.97 351.72,198.53 353.00,197.00 C354.28,195.47 354.73,192.80 355.70,190.30 C356.67,187.80 357.95,183.22 358.80,182.00 C359.65,180.78 360.12,181.62 360.80,183.00 C361.48,184.38 361.87,188.38 362.90,190.30 C363.93,192.22 365.45,194.83 367.00,194.50 C368.55,194.17 370.98,191.75 372.20,188.30 C373.42,184.85 373.60,180.37 374.30,173.80 C375.00,167.23 375.72,154.77 376.40,148.90 C377.08,143.03 377.72,142.05 378.40,138.60 C379.08,135.15 379.80,127.52 380.50,128.20 C381.20,128.88 381.73,139.60 382.60,142.70 C383.47,145.80 384.83,146.80 385.70,146.80 C386.57,146.80 387.18,141.67 387.80,142.70 C388.42,143.73 388.78,147.82 389.40,153.00 C390.02,158.18 390.73,167.23 391.50,173.80 C392.27,180.37 393.25,188.43 394.00,192.40 C394.75,196.37 395.17,196.30 396.00,197.60 C396.83,198.90 398.50,199.77 399.00,200.20" fill="none" stroke="#222" stroke-width="1.2" stroke-dasharray="1.5,1.5" stroke-linejoin="round" stroke-linecap="butt"/>
<path d="M337.00,200.40 C337.67,200.33 339.78,200.65 341.00,200.00 C342.22,199.35 343.47,199.17 344.30,196.50 C345.13,193.83 345.48,188.42 346.00,184.00 C346.52,179.58 346.82,175.67 347.40,170.00 C347.98,164.33 348.77,156.00 349.50,150.00 C350.23,144.00 351.02,137.63 351.80,134.00 C352.58,130.37 353.38,127.62 354.20,128.20 C355.02,128.78 355.93,133.37 356.70,137.50 C357.47,141.63 358.12,147.30 358.80,153.00 C359.48,158.70 359.93,165.82 360.80,171.70 C361.67,177.58 362.97,184.50 364.00,188.30 C365.03,192.10 365.63,193.82 367.00,194.50 C368.37,195.18 370.63,194.13 372.20,192.40 C373.77,190.67 375.18,185.67 376.40,184.10 C377.62,182.53 378.57,184.72 379.50,183.00 C380.43,181.28 381.25,178.10 382.00,173.80 C382.75,169.50 383.38,161.35 384.00,157.20 C384.62,153.05 385.07,149.27 385.70,148.90 C386.33,148.53 387.18,150.85 387.80,155.00 C388.42,159.15 388.88,167.92 389.40,173.80 C389.92,179.68 390.30,186.52 390.90,190.30 C391.50,194.08 392.32,194.85 393.00,196.50 C393.68,198.15 394.67,199.58 395.00,200.20" fill="none" stroke="#111" stroke-width="1.3" stroke-linejoin="round" stroke-linecap="butt"/>
<path d="M455.00,200.90 L461.70,197.60 C462.73,197.25 466.52,197.05 467.90,195.50 C469.28,193.95 469.32,191.58 470.00,188.30 C470.68,185.02 471.32,179.27 472.00,175.80 C472.68,172.33 473.40,172.33 474.10,167.50 C474.80,162.67 475.50,153.35 476.20,146.80 C476.90,140.25 477.68,128.88 478.30,128.20 C478.92,127.52 479.38,136.83 479.90,142.70 C480.42,148.57 480.82,156.50 481.40,163.40 C481.98,170.30 482.72,178.58 483.40,184.10 C484.08,189.62 485.15,194.43 485.50,196.50 L486.50,200.90 Z" fill="#ebebeb"/>
<path d="M461.70,197.60 C462.73,197.25 466.52,197.05 467.90,195.50 C469.28,193.95 469.32,191.58 470.00,188.30 C470.68,185.02 471.32,179.27 472.00,175.80 C472.68,172.33 473.40,172.33 474.10,167.50 C474.80,162.67 475.50,153.35 476.20,146.80 C476.90,140.25 477.68,128.88 478.30,128.20 C478.92,127.52 479.38,136.83 479.90,142.70 C480.42,148.57 480.82,156.50 481.40,163.40 C481.98,170.30 482.72,178.58 483.40,184.10 C484.08,189.62 484.98,193.70 485.50,196.50 C486.02,199.30 486.33,200.17 486.50,200.90" fill="none" stroke="#999" stroke-width="1.3" stroke-linejoin="round" stroke-linecap="butt"/>
<path d="M414.00,198.50 C416.67,198.42 424.83,198.17 430.00,198.00 C435.17,197.83 440.83,197.75 445.00,197.50 C449.17,197.25 452.92,197.00 455.00,196.50 C457.08,196.00 456.80,197.25 457.50,194.50 C458.20,191.75 458.67,186.58 459.20,180.00 C459.73,173.42 460.22,161.90 460.70,155.00 C461.18,148.10 461.67,142.37 462.10,138.60 C462.53,134.83 462.85,132.40 463.30,132.40 C463.75,132.40 464.32,138.95 464.80,138.60 C465.28,138.25 465.75,132.03 466.20,130.30 C466.65,128.57 467.05,126.82 467.50,128.20 C467.95,129.58 468.42,133.77 468.90,138.60 C469.38,143.43 469.88,151.68 470.40,157.20 C470.92,162.72 471.38,167.90 472.00,171.70 C472.62,175.50 473.40,178.28 474.10,180.00 C474.80,181.72 475.58,182.70 476.20,182.00 C476.82,181.30 477.28,178.90 477.80,175.80 C478.32,172.70 478.77,164.78 479.30,163.40 C479.83,162.02 480.48,164.73 481.00,167.50 C481.52,170.27 481.82,175.85 482.40,180.00 C482.98,184.15 483.82,189.47 484.50,192.40 C485.18,195.33 485.92,196.33 486.50,197.60 C487.08,198.87 487.75,199.60 488.00,200.00" fill="none" stroke="#222" stroke-width="1.2" stroke-dasharray="1.5,1.5" stroke-linejoin="round" stroke-linecap="butt"/>
<path d="M413.60,191.40 C414.17,191.53 415.88,192.03 417.00,192.20 C418.12,192.37 419.05,192.60 420.30,192.40 C421.55,192.20 423.12,191.68 424.50,191.00 C425.88,190.32 427.23,190.13 428.60,188.30 C429.97,186.47 431.50,183.47 432.70,180.00 C433.90,176.53 434.77,172.00 435.80,167.50 C436.83,163.00 437.97,158.17 438.90,153.00 C439.83,147.83 440.60,140.63 441.40,136.50 C442.20,132.37 442.98,128.55 443.70,128.20 C444.42,127.85 444.95,130.27 445.70,134.40 C446.45,138.53 447.43,146.10 448.20,153.00 C448.97,159.90 449.43,169.92 450.30,175.80 C451.17,181.68 452.02,185.18 453.40,188.30 C454.78,191.42 456.87,193.13 458.60,194.50 C460.33,195.87 462.25,196.85 463.80,196.50 C465.35,196.15 466.70,195.15 467.90,192.40 C469.10,189.65 470.13,183.45 471.00,180.00 C471.87,176.55 472.42,172.40 473.10,171.70 C473.78,171.00 474.42,177.18 475.10,175.80 C475.78,174.42 476.50,168.57 477.20,163.40 C477.90,158.23 478.78,148.25 479.30,144.80 C479.82,141.35 479.78,140.63 480.30,142.70 C480.82,144.77 481.78,150.98 482.40,157.20 C483.02,163.42 483.48,174.13 484.00,180.00 C484.52,185.87 484.97,189.40 485.50,192.40 C486.03,195.40 486.92,197.07 487.20,198.00" fill="none" stroke="#111" stroke-width="1.3" stroke-linejoin="round" stroke-linecap="butt"/>
<line x1="257.3" y1="123.8" x2="488.3" y2="123.8" stroke="#111" stroke-width="1.3" />
<line x1="257.3" y1="200.9" x2="488.3" y2="200.9" stroke="#111" stroke-width="1.3" />
<line x1="257.3" y1="123.8" x2="257.3" y2="200.9" stroke="#111" stroke-width="1.0" />
<line x1="336.3" y1="123.8" x2="336.3" y2="200.9" stroke="#000" stroke-width="2.4" />
<line x1="413.0" y1="123.8" x2="413.0" y2="200.9" stroke="#000" stroke-width="2.0" />
<line x1="488.3" y1="123.8" x2="488.3" y2="200.9" stroke="#111" stroke-width="1.2" />
<line x1="255" y1="127.7" x2="257.3" y2="127.7" stroke="#333" stroke-width="1" />
<line x1="255" y1="142.0" x2="257.3" y2="142.0" stroke="#333" stroke-width="1" />
<line x1="255" y1="156.3" x2="257.3" y2="156.3" stroke="#333" stroke-width="1" />
<line x1="255" y1="170.60000000000002" x2="257.3" y2="170.60000000000002" stroke="#333" stroke-width="1" />
<line x1="255" y1="184.9" x2="257.3" y2="184.9" stroke="#333" stroke-width="1" />
<line x1="255" y1="199.2" x2="257.3" y2="199.2" stroke="#333" stroke-width="1" />
<line x1="258.5" y1="200.9" x2="258.5" y2="202.4" stroke="#666" stroke-width="0.8" />
<line x1="263.1" y1="200.9" x2="263.1" y2="202.4" stroke="#666" stroke-width="0.8" />
<line x1="267.70000000000005" y1="200.9" x2="267.70000000000005" y2="202.4" stroke="#666" stroke-width="0.8" />
<line x1="272.30000000000007" y1="200.9" x2="272.30000000000007" y2="202.4" stroke="#666" stroke-width="0.8" />
<line x1="276.9000000000001" y1="200.9" x2="276.9000000000001" y2="202.4" stroke="#666" stroke-width="0.8" />
<line x1="281.5000000000001" y1="200.9" x2="281.5000000000001" y2="202.4" stroke="#666" stroke-width="0.8" />
<line x1="286.10000000000014" y1="200.9" x2="286.10000000000014" y2="202.4" stroke="#666" stroke-width="0.8" />
<line x1="290.70000000000016" y1="200.9" x2="290.70000000000016" y2="202.4" stroke="#666" stroke-width="0.8" />
<line x1="295.3000000000002" y1="200.9" x2="295.3000000000002" y2="202.4" stroke="#666" stroke-width="0.8" />
<line x1="299.9000000000002" y1="200.9" x2="299.9000000000002" y2="202.4" stroke="#666" stroke-width="0.8" />
<line x1="304.5000000000002" y1="200.9" x2="304.5000000000002" y2="202.4" stroke="#666" stroke-width="0.8" />
<line x1="309.10000000000025" y1="200.9" x2="309.10000000000025" y2="202.4" stroke="#666" stroke-width="0.8" />
<line x1="313.7000000000003" y1="200.9" x2="313.7000000000003" y2="202.4" stroke="#666" stroke-width="0.8" />
<line x1="318.3000000000003" y1="200.9" x2="318.3000000000003" y2="202.4" stroke="#666" stroke-width="0.8" />
<line x1="322.9000000000003" y1="200.9" x2="322.9000000000003" y2="202.4" stroke="#666" stroke-width="0.8" />
<line x1="327.50000000000034" y1="200.9" x2="327.50000000000034" y2="202.4" stroke="#666" stroke-width="0.8" />
<line x1="332.10000000000036" y1="200.9" x2="332.10000000000036" y2="202.4" stroke="#666" stroke-width="0.8" />
<line x1="336.7000000000004" y1="200.9" x2="336.7000000000004" y2="202.4" stroke="#666" stroke-width="0.8" />
<line x1="341.3000000000004" y1="200.9" x2="341.3000000000004" y2="202.4" stroke="#666" stroke-width="0.8" />
<line x1="345.90000000000043" y1="200.9" x2="345.90000000000043" y2="202.4" stroke="#666" stroke-width="0.8" />
<line x1="350.50000000000045" y1="200.9" x2="350.50000000000045" y2="202.4" stroke="#666" stroke-width="0.8" />
<line x1="355.1000000000005" y1="200.9" x2="355.1000000000005" y2="202.4" stroke="#666" stroke-width="0.8" />
<line x1="359.7000000000005" y1="200.9" x2="359.7000000000005" y2="202.4" stroke="#666" stroke-width="0.8" />
<line x1="364.3000000000005" y1="200.9" x2="364.3000000000005" y2="202.4" stroke="#666" stroke-width="0.8" />
<line x1="368.90000000000055" y1="200.9" x2="368.90000000000055" y2="202.4" stroke="#666" stroke-width="0.8" />
<line x1="373.50000000000057" y1="200.9" x2="373.50000000000057" y2="202.4" stroke="#666" stroke-width="0.8" />
<line x1="378.1000000000006" y1="200.9" x2="378.1000000000006" y2="202.4" stroke="#666" stroke-width="0.8" />
<line x1="382.7000000000006" y1="200.9" x2="382.7000000000006" y2="202.4" stroke="#666" stroke-width="0.8" />
<line x1="387.30000000000064" y1="200.9" x2="387.30000000000064" y2="202.4" stroke="#666" stroke-width="0.8" />
<line x1="391.90000000000066" y1="200.9" x2="391.90000000000066" y2="202.4" stroke="#666" stroke-width="0.8" />
<line x1="396.5000000000007" y1="200.9" x2="396.5000000000007" y2="202.4" stroke="#666" stroke-width="0.8" />
<line x1="401.1000000000007" y1="200.9" x2="401.1000000000007" y2="202.4" stroke="#666" stroke-width="0.8" />
<line x1="405.7000000000007" y1="200.9" x2="405.7000000000007" y2="202.4" stroke="#666" stroke-width="0.8" />
<line x1="410.30000000000075" y1="200.9" x2="410.30000000000075" y2="202.4" stroke="#666" stroke-width="0.8" />
<line x1="414.9000000000008" y1="200.9" x2="414.9000000000008" y2="202.4" stroke="#666" stroke-width="0.8" />
<line x1="419.5000000000008" y1="200.9" x2="419.5000000000008" y2="202.4" stroke="#666" stroke-width="0.8" />
<line x1="424.1000000000008" y1="200.9" x2="424.1000000000008" y2="202.4" stroke="#666" stroke-width="0.8" />
<line x1="428.70000000000084" y1="200.9" x2="428.70000000000084" y2="202.4" stroke="#666" stroke-width="0.8" />
<line x1="433.30000000000086" y1="200.9" x2="433.30000000000086" y2="202.4" stroke="#666" stroke-width="0.8" />
<line x1="437.9000000000009" y1="200.9" x2="437.9000000000009" y2="202.4" stroke="#666" stroke-width="0.8" />
<line x1="442.5000000000009" y1="200.9" x2="442.5000000000009" y2="202.4" stroke="#666" stroke-width="0.8" />
<line x1="447.10000000000093" y1="200.9" x2="447.10000000000093" y2="202.4" stroke="#666" stroke-width="0.8" />
<line x1="451.70000000000095" y1="200.9" x2="451.70000000000095" y2="202.4" stroke="#666" stroke-width="0.8" />
<line x1="456.300000000001" y1="200.9" x2="456.300000000001" y2="202.4" stroke="#666" stroke-width="0.8" />
<line x1="460.900000000001" y1="200.9" x2="460.900000000001" y2="202.4" stroke="#666" stroke-width="0.8" />
<line x1="465.500000000001" y1="200.9" x2="465.500000000001" y2="202.4" stroke="#666" stroke-width="0.8" />
<line x1="470.10000000000105" y1="200.9" x2="470.10000000000105" y2="202.4" stroke="#666" stroke-width="0.8" />
<line x1="474.70000000000107" y1="200.9" x2="474.70000000000107" y2="202.4" stroke="#666" stroke-width="0.8" />
<line x1="479.3000000000011" y1="200.9" x2="479.3000000000011" y2="202.4" stroke="#666" stroke-width="0.8" />
<line x1="483.9000000000011" y1="200.9" x2="483.9000000000011" y2="202.4" stroke="#666" stroke-width="0.8" />
<text x="263.1" y="230.6" font-size="8.6" font-weight="bold" fill="#111" stroke="#111" stroke-width="0.3" textLength="29.6" lengthAdjust="spacingAndGlyphs" >hCD 40</text>
<text x="329.6" y="231.6" font-size="8.6" font-weight="bold" fill="#111" stroke="#111" stroke-width="0.3" textLength="30.1" lengthAdjust="spacingAndGlyphs" >hCD 80</text>
<text x="397.3" y="231.2" font-size="8.6" font-weight="bold" fill="#111" stroke="#111" stroke-width="0.3" textLength="29.3" lengthAdjust="spacingAndGlyphs" >hCD 86</text>
<text x="464.2" y="231.2" font-size="8.6" font-weight="bold" fill="#111" stroke="#111" stroke-width="0.3" textLength="37.8" lengthAdjust="spacingAndGlyphs" >hHLA-DR</text>
<text x="204.6" y="271.8" font-size="8.6" font-weight="bold" fill="#111" stroke="#111" stroke-width="0.3" textLength="22.1" lengthAdjust="spacingAndGlyphs" >LPS -</text>
<text x="205.0" y="336.0" font-size="8.6" font-weight="bold" fill="#111" stroke="#111" stroke-width="0.3" textLength="23.0" lengthAdjust="spacingAndGlyphs" >LPS +</text>
<line x1="233.5" y1="239" x2="233.5" y2="317" stroke="#111" stroke-width="1.8" />
<polygon points="231.7,241.8 233.5,234.8 235.3,241.8" fill="#111"/>
<text transform="translate(238.9,370.4) rotate(-90)" x="0" y="0" font-size="8.4" font-weight="bold" fill="#111" stroke="#111" stroke-width="0.3" textLength="47.5" lengthAdjust="spacingAndGlyphs">Cell counts</text>
<text x="243.0" y="382.8" font-size="8.6" font-weight="bold" fill="#111" stroke="#111" stroke-width="0.3" textLength="138.3" lengthAdjust="spacingAndGlyphs" >Fluorescence Intensity (log scale)</text>
<line x1="388.4" y1="381.7" x2="511" y2="381.7" stroke="#111" stroke-width="2.3" />
<polygon points="508.8,379.3 517,381.7 508.8,384.1" fill="#111"/>
<polygon points="244.8,302.4 244.8,289.0 245.2,288.0 245.8,286.9 246.5,285.9 247.2,284.3 248.0,282.8 248.8,281.7 249.5,280.9 250.2,279.4 250.8,278.2 251.3,276.2 251.9,275.5 252.4,273.9 252.9,272.5 253.4,271.2 253.9,270.1 254.4,269.8 254.8,268.5 255.2,267.0 255.6,265.6 256.0,263.4 256.3,262.1 256.6,261.2 256.9,259.9 257.2,258.8 257.5,257.5 257.9,255.0 258.3,254.3 258.7,253.1 259.1,251.6 259.5,249.8 259.8,249.1 260.2,247.4 260.8,246.5 261.4,244.3 261.9,242.4 262.5,241.7 262.8,243.1 263.1,243.4 263.4,245.1 263.7,246.5 264.0,247.8 264.4,249.7 264.7,252.1 264.9,253.0 265.0,253.7 265.2,255.2 265.3,257.2 265.5,257.5 265.7,259.0 265.8,261.3 266.0,262.3 266.2,264.2 266.4,265.6 266.5,266.9 266.7,269.3 266.9,269.6 267.1,271.2 267.2,272.2 267.4,274.0 267.6,275.1 267.9,276.8 268.1,278.8 268.4,279.7 268.6,281.4 268.9,283.1 269.1,283.5 269.4,284.7 269.6,286.0 269.9,287.5 270.1,288.3 270.7,290.1 271.2,291.6 271.9,292.6 272.8,293.7 273.9,294.1 275.1,294.8 276.5,295.1 277.9,295.4 279.2,295.6 280.6,296.1 281.9,296.2 283.1,296.7 284.6,297.4 285.9,297.9 287.4,298.3 288.9,299.0 290.4,299.5 291.8,300.1 293.2,300.4 294.6,300.9 296.0,301.4 297.2,301.7 298.0,302.0 298.0,302.4" fill="#ebebeb" stroke-linejoin="round" stroke-linecap="butt"/>
<polyline points="244.8,289.0 245.2,288.0 245.8,286.9 246.5,285.9 247.2,284.3 248.0,282.8 248.8,281.7 249.5,280.9 250.2,279.4 250.8,278.2 251.3,276.2 251.9,275.5 252.4,273.9 252.9,272.5 253.4,271.2 253.9,270.1 254.4,269.8 254.8,268.5 255.2,267.0 255.6,265.6 256.0,263.4 256.3,262.1 256.6,261.2 256.9,259.9 257.2,258.8 257.5,257.5 257.9,255.0 258.3,254.3 258.7,253.1 259.1,251.6 259.5,249.8 259.8,249.1 260.2,247.4 260.8,246.5 261.4,244.3 261.9,242.4 262.5,241.7 262.8,243.1 263.1,243.4 263.4,245.1 263.7,246.5 264.0,247.8 264.4,249.7 264.7,252.1 264.9,253.0 265.0,253.7 265.2,255.2 265.3,257.2 265.5,257.5 265.7,259.0 265.8,261.3 266.0,262.3 266.2,264.2 266.4,265.6 266.5,266.9 266.7,269.3 266.9,269.6 267.1,271.2 267.2,272.2 267.4,274.0 267.6,275.1 267.9,276.8 268.1,278.8 268.4,279.7 268.6,281.4 268.9,283.1 269.1,283.5 269.4,284.7 269.6,286.0 269.9,287.5 270.1,288.3 270.7,290.1 271.2,291.6 271.9,292.6 272.8,293.7 273.9,294.1 275.1,294.8 276.5,295.1 277.9,295.4 279.2,295.6 280.6,296.1 281.9,296.2 283.1,296.7 284.6,297.4 285.9,297.9 287.4,298.3 288.9,299.0 290.4,299.5 291.8,300.1 293.2,300.4 294.6,300.9 296.0,301.4 297.2,301.7 298.0,302.0" fill="none" stroke="#aaa" stroke-width="1.1" stroke-linejoin="round" stroke-linecap="butt"/>
<polyline points="244.8,288.0 245.2,287.3 245.8,286.4 246.5,285.3 247.2,284.2 248.0,282.5 248.8,281.3 249.5,278.8 250.2,278.0 250.8,277.4 251.3,275.8 251.9,275.0 252.4,272.6 252.9,271.9 253.4,270.3 253.9,269.5 254.4,268.3 254.8,266.3 255.2,265.3 255.6,264.0 256.0,263.5 256.3,262.0 256.6,259.8 256.9,259.4 257.2,257.2 257.5,256.7 257.9,254.6 258.3,253.0 258.7,252.9 259.0,250.7 259.4,249.4 259.8,249.3 260.2,248.0 260.7,245.5 261.3,244.7 261.8,242.5 262.4,241.6 262.9,240.6 263.3,241.9 263.8,242.2 264.2,243.6 264.7,245.0 265.1,246.0 265.6,248.3 265.8,249.0 265.9,250.1 266.1,251.2 266.3,252.8 266.5,254.6 266.7,255.2 266.8,257.7 267.0,258.7 267.2,260.2 267.4,262.4 267.5,263.5 267.7,264.7 267.8,266.4 268.0,268.0 268.2,268.4 268.3,270.9 268.5,271.1 268.7,273.7 268.8,275.4 269.0,275.7 269.1,278.1 269.3,278.9 269.4,280.4 269.6,280.9 269.7,282.1 269.9,283.3 270.1,285.1 270.6,286.4 271.2,288.3 271.8,289.4 272.8,290.3 273.9,290.5 275.1,290.8 276.5,291.2 277.9,291.6 279.2,291.7 280.6,292.8 281.9,293.7 283.1,294.7 284.6,295.3 285.7,296.3 286.9,296.6 288.1,297.3 289.4,298.0 290.6,298.6 291.8,299.1 293.2,299.9 294.6,300.5 296.0,301.0 297.2,301.6 298.0,302.0" fill="none" stroke="#222" stroke-width="1.1" stroke-dasharray="1.3,1.3" stroke-linejoin="round" stroke-linecap="butt"/>
<polyline points="244.8,287.3 245.3,286.7 246.0,285.5 246.8,283.8 247.5,282.2 248.1,280.8 248.7,280.5 249.4,279.1 250.2,277.8 250.6,276.3 251.1,275.7 251.7,273.9 252.2,273.4 252.8,272.0 253.3,270.2 253.9,269.1 254.4,268.0 254.8,266.1 255.2,265.2 255.6,264.2 256.0,262.0 256.3,261.4 256.6,259.9 256.9,258.8 257.2,256.7 257.5,255.1 257.9,254.7 258.3,253.3 258.7,251.5 259.0,249.7 259.4,248.6 259.8,248.0 260.2,246.4 260.7,245.8 261.3,243.7 261.8,241.7 262.4,241.2 262.9,240.1 264.3,241.0 265.6,242.7 266.0,243.0 266.4,244.3 266.7,245.7 267.1,247.3 267.4,249.2 267.6,249.0 267.8,250.6 268.1,252.2 268.3,253.1 268.5,254.9 268.7,255.7 269.0,258.3 269.2,259.3 269.4,260.0 269.5,262.0 269.7,262.9 269.9,264.1 270.0,265.9 270.2,266.9 270.3,268.4 270.5,270.7 270.7,271.7 270.8,272.0 271.0,274.2 271.2,274.7 271.5,276.6 271.7,278.8 271.9,279.6 272.1,280.4 272.4,281.6 272.8,282.7 273.4,283.8 274.1,285.8 274.9,286.0 275.7,287.3 276.5,288.4 277.6,289.0 278.8,290.1 279.9,290.2 281.0,291.3 282.2,292.1 283.3,292.8 284.6,293.9 285.8,294.5 287.2,295.6 288.7,296.5 290.0,297.3 291.2,298.1 292.2,298.8 293.3,299.4 294.5,299.9 295.7,300.6 297.0,300.9 298.4,301.3 300.0,301.7 301.4,301.7 303.1,301.7 304.8,301.8 306.5,302.0 308.0,301.9 309.0,302.0" fill="none" stroke="#111" stroke-width="1.3" stroke-linejoin="round" stroke-linecap="butt"/>
<path d="M313.60,302.40 L313.60,294.00 C314.17,294.00 315.80,294.08 317.00,294.00 C318.20,293.92 319.00,295.33 320.80,293.50 C322.60,291.67 325.48,287.42 327.80,283.00 C330.12,278.58 332.50,272.33 334.70,267.00 C336.90,261.67 339.12,255.33 341.00,251.00 C342.88,246.67 344.75,241.83 346.00,241.00 C347.25,240.17 347.70,243.83 348.50,246.00 C349.30,248.17 350.05,250.00 350.80,254.00 C351.55,258.00 352.05,264.50 353.00,270.00 C353.95,275.50 355.00,282.33 356.50,287.00 C358.00,291.67 359.92,295.83 362.00,298.00 C364.08,300.17 367.33,299.83 369.00,300.00 C370.67,300.17 370.83,298.67 372.00,299.00 C373.17,299.33 375.33,301.50 376.00,302.00 L376.00,302.40 Z" fill="#ebebeb"/>
<path d="M313.60,294.00 C314.17,294.00 315.80,294.08 317.00,294.00 C318.20,293.92 319.00,295.33 320.80,293.50 C322.60,291.67 325.48,287.42 327.80,283.00 C330.12,278.58 332.50,272.33 334.70,267.00 C336.90,261.67 339.12,255.33 341.00,251.00 C342.88,246.67 344.75,241.83 346.00,241.00 C347.25,240.17 347.70,243.83 348.50,246.00 C349.30,248.17 350.05,250.00 350.80,254.00 C351.55,258.00 352.05,264.50 353.00,270.00 C353.95,275.50 355.00,282.33 356.50,287.00 C358.00,291.67 359.92,295.83 362.00,298.00 C364.08,300.17 367.33,299.83 369.00,300.00 C370.67,300.17 370.83,298.67 372.00,299.00 C373.17,299.33 375.33,301.50 376.00,302.00" fill="none" stroke="#aaa" stroke-width="1.1" stroke-linejoin="round" stroke-linecap="butt"/>
<path d="M313.60,293.50 C314.17,293.52 315.80,293.65 317.00,293.60 C318.20,293.55 319.00,294.97 320.80,293.20 C322.60,291.43 325.48,287.45 327.80,283.00 C330.12,278.55 332.40,271.92 334.70,266.50 C337.00,261.08 339.60,254.83 341.60,250.50 C343.60,246.17 345.47,241.42 346.70,240.50 C347.93,239.58 348.20,242.75 349.00,245.00 C349.80,247.25 350.75,250.17 351.50,254.00 C352.25,257.83 352.58,262.50 353.50,268.00 C354.42,273.50 355.58,281.92 357.00,287.00 C358.42,292.08 360.00,296.25 362.00,298.50 C364.00,300.75 367.33,300.58 369.00,300.50 C370.67,300.42 370.83,297.75 372.00,298.00 C373.17,298.25 375.33,301.33 376.00,302.00" fill="none" stroke="#222" stroke-width="1.1" stroke-dasharray="1.3,1.3" stroke-linejoin="round" stroke-linecap="butt"/>
<path d="M313.60,293.00 C314.17,293.05 315.80,293.33 317.00,293.30 C318.20,293.27 319.00,294.62 320.80,292.80 C322.60,290.98 325.48,286.87 327.80,282.40 C330.12,277.93 332.40,271.40 334.70,266.00 C337.00,260.60 340.05,253.67 341.60,250.00 C343.15,246.33 343.15,245.73 344.00,244.00 C344.85,242.27 345.95,239.60 346.70,239.60 C347.45,239.60 347.82,241.88 348.50,244.00 C349.18,246.12 350.10,248.60 350.80,252.30 C351.50,256.00 351.80,260.80 352.70,266.20 C353.60,271.60 354.65,279.50 356.20,284.70 C357.75,289.90 359.88,295.10 362.00,297.40 C364.12,299.70 367.25,299.07 368.90,298.50 C370.55,297.93 371.13,294.25 371.90,294.00 C372.67,293.75 372.85,295.83 373.50,297.00 C374.15,298.17 374.88,300.17 375.80,301.00 C376.72,301.83 378.47,301.83 379.00,302.00" fill="none" stroke="#111" stroke-width="1.3" stroke-linejoin="round" stroke-linecap="butt"/>
<path d="M381.80,302.40 L381.80,261.00 C382.10,262.83 382.90,269.25 383.60,272.00 C384.30,274.75 385.25,276.28 386.00,277.50 C386.75,278.72 387.30,279.00 388.10,279.30 C388.90,279.60 389.73,279.90 390.80,279.30 C391.87,278.70 393.28,277.97 394.50,275.70 C395.72,273.43 397.05,269.15 398.10,265.70 C399.15,262.25 399.90,258.28 400.80,255.00 C401.70,251.72 402.60,248.17 403.50,246.00 C404.40,243.83 405.45,242.33 406.20,242.00 C406.95,241.67 407.40,242.32 408.00,244.00 C408.60,245.68 409.20,248.35 409.80,252.10 C410.40,255.85 410.98,261.98 411.60,266.50 C412.22,271.02 412.88,275.58 413.50,279.20 C414.12,282.82 414.55,285.78 415.30,288.20 C416.05,290.62 416.95,292.33 418.00,293.70 C419.05,295.07 420.10,295.35 421.60,296.40 C423.10,297.45 425.27,299.07 427.00,300.00 C428.73,300.93 431.17,301.67 432.00,302.00 L432.00,302.40 Z" fill="#ebebeb"/>
<path d="M381.80,261.00 C382.10,262.83 382.90,269.25 383.60,272.00 C384.30,274.75 385.25,276.28 386.00,277.50 C386.75,278.72 387.30,279.00 388.10,279.30 C388.90,279.60 389.73,279.90 390.80,279.30 C391.87,278.70 393.28,277.97 394.50,275.70 C395.72,273.43 397.05,269.15 398.10,265.70 C399.15,262.25 399.90,258.28 400.80,255.00 C401.70,251.72 402.60,248.17 403.50,246.00 C404.40,243.83 405.45,242.33 406.20,242.00 C406.95,241.67 407.40,242.32 408.00,244.00 C408.60,245.68 409.20,248.35 409.80,252.10 C410.40,255.85 410.98,261.98 411.60,266.50 C412.22,271.02 412.88,275.58 413.50,279.20 C414.12,282.82 414.55,285.78 415.30,288.20 C416.05,290.62 416.95,292.33 418.00,293.70 C419.05,295.07 420.10,295.35 421.60,296.40 C423.10,297.45 425.27,299.07 427.00,300.00 C428.73,300.93 431.17,301.67 432.00,302.00" fill="none" stroke="#aaa" stroke-width="1.1" stroke-linejoin="round" stroke-linecap="butt"/>
<path d="M381.80,260.00 C382.10,261.92 382.90,268.67 383.60,271.50 C384.30,274.33 385.25,275.78 386.00,277.00 C386.75,278.22 387.30,278.50 388.10,278.80 C388.90,279.10 389.73,279.40 390.80,278.80 C391.87,278.20 393.28,277.47 394.50,275.20 C395.72,272.93 397.05,268.65 398.10,265.20 C399.15,261.75 399.90,257.78 400.80,254.50 C401.70,251.22 402.60,247.75 403.50,245.50 C404.40,243.25 405.45,241.42 406.20,241.00 C406.95,240.58 407.37,241.17 408.00,243.00 C408.63,244.83 409.33,248.83 410.00,252.00 C410.67,255.17 411.37,260.33 412.00,262.00 C412.63,263.67 413.22,264.00 413.80,262.00 C414.38,260.00 414.97,253.50 415.50,250.00 C416.03,246.50 416.58,242.77 417.00,241.00 C417.42,239.23 417.53,238.15 418.00,239.40 C418.47,240.65 419.20,243.98 419.80,248.50 C420.40,253.02 421.00,261.08 421.60,266.50 C422.20,271.92 422.65,276.77 423.40,281.00 C424.15,285.23 425.05,288.88 426.10,291.90 C427.15,294.92 428.50,297.45 429.70,299.10 C430.90,300.75 431.92,301.32 433.30,301.80 C434.68,302.28 437.22,301.97 438.00,302.00" fill="none" stroke="#222" stroke-width="1.1" stroke-dasharray="1.3,1.3" stroke-linejoin="round" stroke-linecap="butt"/>
<path d="M381.80,259.00 C382.10,261.00 382.90,268.08 383.60,271.00 C384.30,273.92 385.25,275.28 386.00,276.50 C386.75,277.72 387.30,278.00 388.10,278.30 C388.90,278.60 389.73,278.90 390.80,278.30 C391.87,277.70 393.28,276.97 394.50,274.70 C395.72,272.43 397.05,268.17 398.10,264.70 C399.15,261.23 399.90,257.22 400.80,253.90 C401.70,250.58 402.60,247.07 403.50,244.80 C404.40,242.53 405.45,240.90 406.20,240.30 C406.95,239.70 407.40,239.83 408.00,241.20 C408.60,242.57 409.20,245.48 409.80,248.50 C410.40,251.52 410.98,255.68 411.60,259.30 C412.22,262.92 412.88,266.58 413.50,270.20 C414.12,273.82 414.55,277.68 415.30,281.00 C416.05,284.32 416.95,287.68 418.00,290.10 C419.05,292.52 420.10,294.00 421.60,295.50 C423.10,297.00 425.20,298.20 427.00,299.10 C428.80,300.00 430.23,300.42 432.40,300.90 C434.57,301.38 437.40,301.82 440.00,302.00 C442.60,302.18 446.67,302.00 448.00,302.00" fill="none" stroke="#111" stroke-width="1.3" stroke-linejoin="round" stroke-linecap="butt"/>
<path d="M468.00,302.40 L468.00,302.00 C469.05,301.42 472.65,299.88 474.30,298.50 C475.95,297.12 476.85,296.62 477.90,293.70 C478.95,290.78 479.83,286.43 480.60,281.00 C481.37,275.57 481.88,267.43 482.50,261.10 C483.12,254.77 483.85,246.47 484.30,243.00 C484.75,239.53 484.75,238.18 485.20,240.30 C485.65,242.42 486.47,249.22 487.00,255.70 C487.53,262.18 487.95,273.17 488.40,279.20 C488.85,285.23 489.03,288.88 489.70,291.90 C490.37,294.92 491.35,295.70 492.40,297.30 C493.45,298.90 495.40,300.80 496.00,301.50 L496.00,302.40 Z" fill="#ebebeb"/>
<path d="M468.00,302.00 C469.05,301.42 472.65,299.88 474.30,298.50 C475.95,297.12 476.85,296.62 477.90,293.70 C478.95,290.78 479.83,286.43 480.60,281.00 C481.37,275.57 481.88,267.43 482.50,261.10 C483.12,254.77 483.85,246.47 484.30,243.00 C484.75,239.53 484.75,238.18 485.20,240.30 C485.65,242.42 486.47,249.22 487.00,255.70 C487.53,262.18 487.95,273.17 488.40,279.20 C488.85,285.23 489.03,288.88 489.70,291.90 C490.37,294.92 491.35,295.70 492.40,297.30 C493.45,298.90 495.40,300.80 496.00,301.50" fill="none" stroke="#aaa" stroke-width="1.1" stroke-linejoin="round" stroke-linecap="butt"/>
<path d="M450.50,299.60 C451.45,299.30 454.03,298.40 456.20,297.80 C458.37,297.20 461.38,296.60 463.50,296.00 C465.62,295.40 467.55,294.80 468.90,294.20 C470.25,293.60 470.70,293.60 471.60,292.40 C472.50,291.20 473.55,289.07 474.30,287.00 C475.05,284.93 475.50,283.00 476.10,280.00 C476.70,277.00 477.30,272.67 477.90,269.00 C478.50,265.33 479.10,261.33 479.70,258.00 C480.30,254.67 480.88,251.58 481.50,249.00 C482.12,246.42 482.85,244.00 483.40,242.50 C483.95,241.00 484.20,238.70 484.80,240.00 C485.40,241.30 486.33,245.27 487.00,250.30 C487.67,255.33 488.20,263.27 488.80,270.20 C489.40,277.13 489.85,287.38 490.60,291.90 C491.35,296.42 492.25,296.10 493.30,297.30 C494.35,298.50 495.45,298.40 496.90,299.10 C498.35,299.80 501.15,301.10 502.00,301.50" fill="none" stroke="#222" stroke-width="1.1" stroke-dasharray="1.3,1.3" stroke-linejoin="round" stroke-linecap="butt"/>
<path d="M450.50,299.10 C451.45,298.80 454.03,297.90 456.20,297.30 C458.37,296.70 461.38,296.10 463.50,295.50 C465.62,294.90 467.55,294.30 468.90,293.70 C470.25,293.10 470.70,293.12 471.60,291.90 C472.50,290.68 473.55,288.52 474.30,286.40 C475.05,284.28 475.50,282.20 476.10,279.20 C476.70,276.20 477.30,272.02 477.90,268.40 C478.50,264.78 479.10,260.82 479.70,257.50 C480.30,254.18 480.88,251.07 481.50,248.50 C482.12,245.93 482.88,243.62 483.40,242.10 C483.92,240.58 484.15,239.25 484.60,239.40 C485.05,239.55 485.55,240.28 486.10,243.00 C486.65,245.72 487.40,251.17 487.90,255.70 C488.40,260.23 488.65,265.38 489.10,270.20 C489.55,275.02 490.05,280.98 490.60,284.60 C491.15,288.22 491.65,290.08 492.40,291.90 C493.15,293.72 494.20,294.45 495.10,295.50 C496.00,296.55 496.90,297.37 497.80,298.20 C498.70,299.03 498.98,300.05 500.50,300.50 C502.02,300.95 504.32,300.73 506.90,300.90 C509.48,301.07 514.48,301.40 516.00,301.50" fill="none" stroke="#111" stroke-width="1.3" stroke-linejoin="round" stroke-linecap="butt"/>
<polygon points="258.0,370.4 258.0,369.3 258.4,368.4 258.9,367.2 259.4,366.0 260.0,364.2 260.6,363.1 261.1,361.6 261.5,359.7 261.9,358.7 262.2,356.6 262.6,355.7 262.9,353.6 263.3,352.1 263.6,351.2 264.0,350.7 264.3,347.9 264.7,347.4 265.5,349.1 266.5,351.8 267.3,352.2 268.3,353.1 269.2,355.3 270.5,355.1 271.9,356.8 272.6,355.0 273.2,353.3 273.9,351.5 274.6,350.4 275.3,350.2 275.9,347.2 276.6,346.8 277.4,345.8 278.5,343.8 279.8,343.3 281.0,340.6 281.6,339.6 282.2,338.9 282.8,339.1 283.4,337.1 284.0,335.4 284.6,334.7 285.1,333.2 285.5,331.4 286.0,331.4 286.5,329.7 286.9,326.9 287.4,326.4 287.8,325.0 288.2,324.8 288.8,322.6 289.4,319.8 289.9,320.3 290.4,316.6 290.9,316.3 291.6,315.3 292.1,312.0 292.7,312.8 293.0,312.1 293.2,314.8 293.5,316.4 293.7,317.3 294.0,319.7 294.2,319.8 294.5,322.4 294.7,323.4 294.9,324.8 295.1,325.9 295.3,328.5 295.6,330.3 295.8,330.5 296.0,332.4 296.2,332.1 296.4,335.1 296.8,336.6 297.1,338.9 297.5,339.7 297.8,339.5 298.2,341.5 298.4,343.4 298.6,342.9 298.8,345.6 299.0,346.3 299.2,347.7 299.4,349.1 299.6,352.2 299.8,352.3 300.0,353.9 300.2,355.7 300.4,357.9 300.7,358.4 300.9,360.3 301.1,361.8 301.4,363.4 301.6,364.5 301.8,365.5 302.5,367.2 303.1,368.5 303.6,369.3 303.6,370.4" fill="#ebebeb" stroke-linejoin="round" stroke-linecap="butt"/>
<polyline points="258.0,369.3 258.4,368.4 258.9,367.2 259.4,366.0 260.0,364.2 260.6,363.1 261.1,361.6 261.5,359.7 261.9,358.7 262.2,356.6 262.6,355.7 262.9,353.6 263.3,352.1 263.6,351.2 264.0,350.7 264.3,347.9 264.7,347.4 265.5,349.1 266.5,351.8 267.3,352.2 268.3,353.1 269.2,355.3 270.5,355.1 271.9,356.8 272.6,355.0 273.2,353.3 273.9,351.5 274.6,350.4 275.3,350.2 275.9,347.2 276.6,346.8 277.4,345.8 278.5,343.8 279.8,343.3 281.0,340.6 281.6,339.6 282.2,338.9 282.8,339.1 283.4,337.1 284.0,335.4 284.6,334.7 285.1,333.2 285.5,331.4 286.0,331.4 286.5,329.7 286.9,326.9 287.4,326.4 287.8,325.0 288.2,324.8 288.8,322.6 289.4,319.8 289.9,320.3 290.4,316.6 290.9,316.3 291.6,315.3 292.1,312.0 292.7,312.8 293.0,312.1 293.2,314.8 293.5,316.4 293.7,317.3 294.0,319.7 294.2,319.8 294.5,322.4 294.7,323.4 294.9,324.8 295.1,325.9 295.3,328.5 295.6,330.3 295.8,330.5 296.0,332.4 296.2,332.1 296.4,335.1 296.8,336.6 297.1,338.9 297.5,339.7 297.8,339.5 298.2,341.5 298.4,343.4 298.6,342.9 298.8,345.6 299.0,346.3 299.2,347.7 299.4,349.1 299.6,352.2 299.8,352.3 300.0,353.9 300.2,355.7 300.4,357.9 300.7,358.4 300.9,360.3 301.1,361.8 301.4,363.4 301.6,364.5 301.8,365.5 302.5,367.2 303.1,368.5 303.6,369.3" fill="none" stroke="#aaa" stroke-width="1.1" stroke-linejoin="round" stroke-linecap="butt"/>
<polyline points="256.0,369.3 256.1,368.4 256.3,367.8 256.5,366.3 256.8,365.4 257.0,363.6 257.3,362.2 257.6,361.4 257.9,359.0 258.1,358.0 258.4,356.1 258.6,355.0 258.8,353.9 259.0,352.1 259.1,352.2 259.3,349.4 259.5,348.4 259.7,346.5 259.9,345.8 260.1,344.8 260.3,344.9 260.5,342.1 260.7,339.9 260.9,338.9 261.1,339.6 261.3,335.7 261.4,335.9 261.6,333.8 261.8,333.1 262.0,330.6 262.2,330.1 262.3,328.0 262.5,326.9 262.7,326.1 262.9,323.7 263.0,321.1 263.2,319.5 263.3,320.8 263.5,318.3 263.7,316.5 263.8,317.7 264.5,313.7 265.0,313.2 265.6,313.9 265.9,312.9 266.3,314.4 266.6,317.6 267.0,317.3 267.4,320.8 267.7,320.2 268.1,323.2 268.5,324.7 268.9,326.8 269.3,327.8 269.7,328.1 270.1,328.3 271.0,330.3 271.9,333.0 272.8,332.7 273.1,330.7 273.4,331.8 273.7,329.1 274.0,327.8 274.3,324.6 274.6,322.8 274.9,320.6 275.2,320.4 275.5,319.4 276.2,320.2 276.9,321.9 277.6,325.3 278.3,326.6 279.2,324.1 280.1,323.1 281.0,321.0 281.9,321.4 282.7,321.2 283.7,317.5 284.2,317.9 284.7,315.1 285.2,312.6 285.8,313.0 286.3,310.3 286.8,308.8 287.3,309.0 287.9,308.7 288.4,310.3 289.0,312.1 289.5,314.1 290.0,316.7 290.2,317.0 290.5,317.6 290.7,318.9 291.0,320.3 291.2,322.9 291.5,323.9 291.7,326.6 292.0,327.2 292.2,329.1 292.5,331.1 292.7,329.7 293.1,331.2 293.5,333.0 293.9,335.1 294.2,337.0 294.6,338.6 295.0,338.6 295.4,341.3 296.3,340.0 297.3,343.1 298.2,342.8 298.6,345.6 299.0,344.4 299.4,348.2 299.7,349.0 300.1,350.9 300.5,351.3 300.9,352.0 301.2,354.8 301.6,355.2 302.0,356.1 302.3,358.4 302.7,359.7 303.0,361.1 303.3,362.1 303.6,363.2 304.2,365.5 304.7,367.1 305.1,368.2 305.4,369.3" fill="none" stroke="#222" stroke-width="1.1" stroke-dasharray="1.3,1.3" stroke-linejoin="round" stroke-linecap="butt"/>
<polyline points="244.6,369.3 245.7,369.3 247.2,369.4 248.9,369.3 250.2,369.5 251.8,368.4 253.0,367.5 253.9,366.6 254.8,364.9 255.7,363.5 256.1,362.6 256.5,360.9 256.9,360.0 257.3,359.1 257.6,357.4 258.0,356.4 258.3,354.3 258.5,353.3 258.8,352.0 259.1,351.6 259.3,351.3 259.6,349.1 259.9,348.0 260.2,345.1 260.4,345.0 260.5,342.0 260.7,341.3 260.9,341.0 261.0,339.7 261.2,337.4 261.4,334.9 261.6,333.9 261.8,332.2 261.9,330.9 262.1,330.9 262.3,327.8 262.4,328.3 262.6,327.0 262.8,323.5 262.9,323.4 263.2,321.8 263.4,318.7 263.7,318.3 263.9,318.3 264.1,314.9 264.3,315.1 264.5,312.7 264.7,313.0 265.2,311.5 265.7,307.9 266.1,306.9 266.4,307.7 266.6,310.2 266.8,310.3 267.1,312.1 267.4,314.7 267.8,317.3 268.2,317.1 268.7,318.4 269.2,320.5 269.7,320.3 270.2,323.1 270.8,323.5 271.3,326.2 271.9,328.6 272.4,327.4 273.0,330.0 273.5,331.4 274.1,331.4 274.6,333.0 275.2,336.3 275.7,337.6 276.3,336.4 276.8,339.4 277.4,341.3 278.1,340.9 278.8,343.6 279.5,343.4 280.1,345.0 280.7,345.6 281.3,344.0 281.9,342.6 282.2,339.6 282.6,339.2 283.0,339.4 283.4,337.2 283.8,335.4 284.2,333.9 284.6,334.1 284.9,331.6 285.3,328.6 285.7,329.3 286.0,326.5 286.4,325.3 286.7,323.3 287.0,322.8 287.3,321.4 288.0,318.6 288.5,318.8 289.1,317.2 289.5,319.7 289.8,318.7 290.2,322.4 290.5,324.3 290.9,325.5 291.1,327.1 291.2,327.0 291.4,329.6 291.6,330.1 291.7,331.0 291.9,334.4 292.0,334.3 292.2,335.6 292.4,338.4 292.5,338.4 292.7,340.5 292.9,340.6 293.1,344.0 293.3,343.8 293.5,344.7 293.6,348.6 293.8,347.9 294.0,351.1 294.3,352.4 294.5,352.8 294.8,353.2 295.2,354.8 295.5,356.5 295.9,358.1 296.3,359.6 296.8,361.1 297.2,361.6 297.9,362.8 298.6,364.3 299.4,365.1 300.2,366.1 300.9,367.1 302.1,368.2 303.2,368.7 304.5,369.3 306.1,369.6 307.8,369.6 309.0,369.5" fill="none" stroke="#111" stroke-width="1.3" stroke-linejoin="round" stroke-linecap="butt"/>
<polygon points="328.0,370.4 328.0,369.4 328.7,368.7 330.1,367.1 330.8,366.2 331.8,364.8 332.8,363.8 333.8,362.5 334.7,361.1 335.5,359.5 336.6,358.2 337.3,356.6 338.2,355.8 339.4,357.5 340.6,358.8 341.8,358.4 343.3,359.4 344.5,357.4 344.8,356.1 345.1,354.7 345.4,354.1 345.6,352.1 345.9,351.0 346.1,349.3 346.4,346.2 346.6,346.8 346.7,346.2 346.9,344.9 347.1,342.6 347.2,339.7 347.4,338.3 347.5,337.3 347.7,338.1 347.9,334.9 348.0,333.7 348.2,333.8 348.3,330.9 348.5,330.1 348.6,328.4 348.8,325.9 348.9,325.9 349.0,325.2 349.2,321.8 349.3,320.6 349.5,319.8 349.6,317.5 349.8,317.6 350.0,317.4 350.4,314.9 350.9,312.7 351.3,311.9 351.8,308.5 352.3,308.8 352.7,307.9 353.0,309.1 353.3,309.1 353.6,312.8 353.9,312.8 354.2,314.6 354.5,317.4 355.8,316.9 357.2,314.5 357.6,315.2 358.0,316.0 358.3,317.6 358.7,320.3 359.0,321.0 359.2,322.0 359.4,324.2 359.6,324.8 359.8,327.5 360.0,329.5 360.2,330.9 360.4,331.5 360.6,332.6 360.8,334.3 361.0,334.5 361.2,337.9 361.4,338.3 361.6,339.7 361.8,340.5 362.0,343.0 362.2,344.7 362.4,345.6 362.6,348.2 362.8,349.1 363.0,349.5 363.2,351.6 363.4,353.7 363.7,354.3 363.9,355.8 364.1,356.2 364.4,358.1 364.8,359.6 365.3,361.1 365.7,362.6 366.2,364.0 366.7,365.2 367.2,366.2 368.2,367.6 369.2,368.7 369.9,369.4 369.9,370.4" fill="#ebebeb" stroke-linejoin="round" stroke-linecap="butt"/>
<polyline points="328.0,369.4 328.7,368.7 330.1,367.1 330.8,366.2 331.8,364.8 332.8,363.8 333.8,362.5 334.7,361.1 335.5,359.5 336.6,358.2 337.3,356.6 338.2,355.8 339.4,357.5 340.6,358.8 341.8,358.4 343.3,359.4 344.5,357.4 344.8,356.1 345.1,354.7 345.4,354.1 345.6,352.1 345.9,351.0 346.1,349.3 346.4,346.2 346.6,346.8 346.7,346.2 346.9,344.9 347.1,342.6 347.2,339.7 347.4,338.3 347.5,337.3 347.7,338.1 347.9,334.9 348.0,333.7 348.2,333.8 348.3,330.9 348.5,330.1 348.6,328.4 348.8,325.9 348.9,325.9 349.0,325.2 349.2,321.8 349.3,320.6 349.5,319.8 349.6,317.5 349.8,317.6 350.0,317.4 350.4,314.9 350.9,312.7 351.3,311.9 351.8,308.5 352.3,308.8 352.7,307.9 353.0,309.1 353.3,309.1 353.6,312.8 353.9,312.8 354.2,314.6 354.5,317.4 355.8,316.9 357.2,314.5 357.6,315.2 358.0,316.0 358.3,317.6 358.7,320.3 359.0,321.0 359.2,322.0 359.4,324.2 359.6,324.8 359.8,327.5 360.0,329.5 360.2,330.9 360.4,331.5 360.6,332.6 360.8,334.3 361.0,334.5 361.2,337.9 361.4,338.3 361.6,339.7 361.8,340.5 362.0,343.0 362.2,344.7 362.4,345.6 362.6,348.2 362.8,349.1 363.0,349.5 363.2,351.6 363.4,353.7 363.7,354.3 363.9,355.8 364.1,356.2 364.4,358.1 364.8,359.6 365.3,361.1 365.7,362.6 366.2,364.0 366.7,365.2 367.2,366.2 368.2,367.6 369.2,368.7 369.9,369.4" fill="none" stroke="#aaa" stroke-width="1.1" stroke-linejoin="round" stroke-linecap="butt"/>
<polyline points="318.0,369.4 319.2,369.1 321.0,368.7 322.8,368.2 323.9,367.4 325.0,366.8 326.2,366.1 327.3,365.0 328.3,364.4 329.3,363.5 330.2,362.6 331.0,360.8 331.9,359.7 332.5,358.4 333.2,358.4 333.8,357.2 334.4,354.9 335.0,355.1 335.5,353.5 335.7,351.9 335.9,350.7 336.1,348.5 336.3,346.8 336.4,346.8 336.6,344.2 336.7,343.1 336.9,341.9 337.0,339.8 337.1,339.6 337.3,338.0 337.4,337.9 337.6,335.6 337.7,334.4 337.9,332.5 338.0,331.5 338.1,329.4 338.3,327.3 338.4,327.8 338.5,326.4 338.7,324.6 338.8,322.9 339.0,320.6 339.1,319.3 339.5,317.1 339.8,314.5 340.2,314.9 340.5,312.9 340.9,313.8 341.3,313.0 341.6,315.9 342.0,317.3 342.3,316.9 342.7,319.3 343.0,322.6 343.2,323.0 343.5,326.1 343.7,326.1 344.0,326.6 344.2,329.1 344.5,329.9 344.8,328.1 345.0,326.7 345.3,326.1 345.6,326.3 345.9,324.1 346.1,320.6 346.4,319.4 346.6,317.6 346.9,315.8 347.1,316.2 347.3,312.7 347.5,312.2 347.8,310.5 348.0,308.8 348.2,309.8 348.6,308.5 348.9,311.4 349.3,311.9 349.6,314.8 350.0,315.7 350.6,317.5 351.1,320.8 351.8,320.9 353.1,318.2 354.5,319.4 354.8,318.2 355.2,319.8 355.5,322.3 355.9,323.2 356.2,323.2 356.5,327.3 356.9,326.8 357.2,328.4 357.5,331.2 357.8,331.4 358.1,332.7 358.4,333.5 358.7,335.0 359.0,337.9 359.3,338.3 359.6,340.7 359.9,341.4 360.2,343.1 360.6,346.0 360.9,346.1 361.2,347.7 361.6,349.8 361.9,349.5 362.3,350.7 362.6,353.4 363.1,354.9 363.7,355.4 364.2,356.8 364.8,358.9 365.3,360.4 365.9,361.0 366.4,363.0 367.0,364.2 367.5,365.2 368.1,366.2 369.1,367.4 370.1,368.5 370.8,369.4" fill="none" stroke="#222" stroke-width="1.1" stroke-dasharray="1.3,1.3" stroke-linejoin="round" stroke-linecap="butt"/>
<polyline points="313.6,365.3 314.6,365.2 316.1,365.3 317.8,365.2 319.5,364.6 321.0,364.1 322.3,363.7 323.4,362.7 324.5,362.2 325.6,361.1 326.5,360.0 327.4,359.0 328.1,358.1 328.8,356.2 329.5,355.5 330.1,353.8 330.7,353.9 331.3,350.8 331.8,351.0 332.3,347.8 332.8,347.7 333.1,345.6 333.4,344.5 333.6,344.5 333.9,340.9 334.1,339.7 334.4,340.8 334.6,338.2 334.8,335.8 335.1,337.0 335.3,335.5 335.5,331.8 335.7,331.2 335.9,329.0 336.2,328.1 336.4,327.6 336.6,325.0 336.8,325.1 337.1,321.9 337.3,320.8 337.5,321.2 337.7,318.7 338.0,317.5 338.2,316.8 338.5,314.8 338.8,312.9 339.1,310.4 339.4,310.9 339.7,310.4 340.0,309.6 341.8,309.7 342.0,309.7 342.2,311.0 342.5,313.3 342.7,314.9 342.9,314.9 343.1,316.8 343.4,318.5 343.6,320.1 344.1,322.7 344.6,323.1 345.0,323.0 345.5,326.4 346.0,326.7 346.4,328.5 346.9,329.0 347.3,330.7 349.1,332.4 350.9,334.4 352.2,333.0 353.6,334.6 355.0,333.4 356.3,335.0 357.0,334.0 357.5,335.8 358.1,337.8 358.4,339.6 358.6,339.1 358.9,341.6 359.1,342.2 359.4,343.9 359.6,345.8 359.9,348.4 360.2,348.5 360.4,350.9 360.7,350.4 360.9,353.3 361.2,353.5 361.4,354.5 361.7,356.6 362.0,358.4 362.4,358.8 362.7,360.7 363.1,362.5 363.5,363.4 364.2,364.9 365.1,365.9 366.2,366.9 367.3,367.9 368.7,368.7 370.1,369.2 371.7,369.4 373.2,369.4 374.8,369.5 376.5,369.7 378.0,369.7 379.0,369.5" fill="none" stroke="#111" stroke-width="1.3" stroke-linejoin="round" stroke-linecap="butt"/>
<polygon points="381.8,370.4 381.8,363.5 382.7,363.6 384.0,364.2 385.6,364.5 387.2,364.6 388.6,363.9 390.1,363.5 391.6,362.9 393.1,362.2 394.5,361.9 395.7,360.4 396.8,359.9 397.9,358.4 398.9,357.3 399.9,356.1 400.6,355.7 401.3,354.2 401.9,351.8 402.6,351.0 403.2,349.3 403.8,349.6 404.4,348.0 404.8,346.9 405.2,345.8 405.5,344.3 405.9,343.6 406.3,341.8 406.6,338.9 406.9,339.3 407.3,336.9 407.6,336.4 408.0,334.7 408.4,332.8 408.9,331.2 409.3,330.0 409.8,328.3 410.2,326.5 410.7,327.1 411.1,325.8 411.6,325.1 412.1,322.8 412.7,321.0 413.2,320.2 413.8,317.2 414.3,317.5 414.8,315.6 415.3,313.8 416.1,312.0 416.8,311.2 417.4,309.2 418.0,309.1 418.6,309.9 419.2,310.7 419.8,311.8 420.3,313.9 420.8,314.5 421.4,315.9 421.9,317.4 422.5,319.7 422.8,320.1 423.1,323.0 423.4,325.2 423.7,325.0 424.0,327.4 424.3,329.5 424.6,328.5 424.9,330.3 425.2,333.6 425.5,335.1 425.8,336.0 426.1,336.1 426.4,338.3 426.7,341.0 427.0,342.5 427.3,343.7 427.6,343.3 427.9,346.4 428.3,346.6 428.6,348.8 429.0,348.8 429.4,351.9 429.8,352.3 430.2,353.7 430.6,353.9 431.1,355.9 431.7,357.2 432.2,358.5 432.8,359.4 433.5,360.9 434.2,361.5 435.2,362.6 436.3,363.5 437.4,364.7 438.6,365.2 439.7,366.1 441.2,367.0 442.7,368.1 444.1,368.9 445.1,369.4 445.1,370.4" fill="#ebebeb" stroke-linejoin="round" stroke-linecap="butt"/>
<polyline points="381.8,363.5 382.7,363.6 384.0,364.2 385.6,364.5 387.2,364.6 388.6,363.9 390.1,363.5 391.6,362.9 393.1,362.2 394.5,361.9 395.7,360.4 396.8,359.9 397.9,358.4 398.9,357.3 399.9,356.1 400.6,355.7 401.3,354.2 401.9,351.8 402.6,351.0 403.2,349.3 403.8,349.6 404.4,348.0 404.8,346.9 405.2,345.8 405.5,344.3 405.9,343.6 406.3,341.8 406.6,338.9 406.9,339.3 407.3,336.9 407.6,336.4 408.0,334.7 408.4,332.8 408.9,331.2 409.3,330.0 409.8,328.3 410.2,326.5 410.7,327.1 411.1,325.8 411.6,325.1 412.1,322.8 412.7,321.0 413.2,320.2 413.8,317.2 414.3,317.5 414.8,315.6 415.3,313.8 416.1,312.0 416.8,311.2 417.4,309.2 418.0,309.1 418.6,309.9 419.2,310.7 419.8,311.8 420.3,313.9 420.8,314.5 421.4,315.9 421.9,317.4 422.5,319.7 422.8,320.1 423.1,323.0 423.4,325.2 423.7,325.0 424.0,327.4 424.3,329.5 424.6,328.5 424.9,330.3 425.2,333.6 425.5,335.1 425.8,336.0 426.1,336.1 426.4,338.3 426.7,341.0 427.0,342.5 427.3,343.7 427.6,343.3 427.9,346.4 428.3,346.6 428.6,348.8 429.0,348.8 429.4,351.9 429.8,352.3 430.2,353.7 430.6,353.9 431.1,355.9 431.7,357.2 432.2,358.5 432.8,359.4 433.5,360.9 434.2,361.5 435.2,362.6 436.3,363.5 437.4,364.7 438.6,365.2 439.7,366.1 441.2,367.0 442.7,368.1 444.1,368.9 445.1,369.4" fill="none" stroke="#aaa" stroke-width="1.1" stroke-linejoin="round" stroke-linecap="butt"/>
<polyline points="381.8,359.9 382.6,359.9 383.7,361.3 384.9,362.1 386.3,363.1 387.7,363.1 389.0,363.3 390.2,363.5 391.5,363.1 392.8,362.2 394.1,361.8 395.2,360.7 396.3,360.2 397.2,358.4 398.0,357.5 398.8,357.3 399.5,355.2 400.1,353.6 400.8,353.2 401.3,351.7 401.8,349.4 402.2,348.9 402.7,347.8 403.1,345.1 403.5,345.0 404.0,342.1 404.4,341.3 404.8,339.2 405.3,338.1 405.8,338.8 406.2,335.7 406.6,336.0 407.1,333.1 407.5,332.3 408.0,331.9 408.9,329.7 409.8,326.9 410.7,327.1 411.6,325.9 412.2,323.5 412.9,322.1 413.5,323.1 414.1,320.8 414.7,318.7 415.3,318.2 415.9,315.9 416.5,315.7 417.0,313.1 417.5,310.6 418.0,311.9 418.9,310.7 419.9,313.3 420.7,313.4 421.1,314.5 421.5,311.1 421.8,310.3 422.2,307.3 422.5,307.3 424.3,309.7 424.5,310.1 424.6,310.9 424.8,312.2 424.9,313.4 425.1,315.2 425.2,315.3 425.4,317.8 425.5,318.7 425.7,321.9 425.9,323.6 426.1,322.5 426.3,324.0 426.5,327.0 426.7,328.0 427.0,327.8 427.2,331.1 427.5,333.1 427.7,333.0 428.0,334.1 428.2,336.0 428.5,338.3 428.8,337.5 429.2,339.2 429.6,340.3 430.1,343.0 430.5,343.9 431.0,344.6 431.5,346.2 431.9,346.6 432.4,348.6 432.9,351.5 433.5,352.0 434.0,352.7 434.5,355.3 435.0,355.5 435.6,356.6 436.1,357.5 436.8,359.2 437.5,360.7 438.3,362.0 439.0,363.7 439.7,364.2 440.9,365.6 442.2,366.7 443.3,367.7 444.9,368.6 446.0,369.4" fill="none" stroke="#222" stroke-width="1.1" stroke-dasharray="1.3,1.3" stroke-linejoin="round" stroke-linecap="butt"/>
<polyline points="381.8,354.4 382.7,355.6 384.1,354.6 385.7,356.3 387.2,355.7 388.5,356.9 389.8,355.0 391.2,356.1 392.5,355.2 393.6,355.0 395.0,354.4 396.2,351.8 397.2,350.4 397.8,350.1 398.3,347.7 398.9,346.2 399.4,344.5 399.9,344.6 400.3,343.5 400.7,342.0 401.1,339.1 401.4,339.8 401.8,337.3 402.2,335.2 402.6,334.4 402.9,333.0 403.3,330.7 403.7,330.6 404.0,328.6 404.4,327.8 404.7,327.4 405.0,325.3 405.3,323.4 405.7,323.1 406.1,322.0 406.4,319.3 406.8,319.2 407.1,315.2 407.4,314.0 407.7,312.3 408.0,312.7 408.3,310.4 408.6,309.3 408.9,307.7 409.2,308.9 409.4,311.5 409.7,311.3 409.9,313.4 410.2,314.7 410.4,316.4 410.6,316.9 410.7,314.7 410.9,312.5 411.1,310.8 411.2,308.1 411.4,309.1 411.6,307.0 411.8,307.2 412.0,308.6 412.3,311.7 412.5,312.1 412.8,315.7 413.0,315.8 413.3,317.4 413.5,317.1 414.0,318.8 414.4,316.4 414.9,313.3 415.3,311.7 415.5,313.4 415.8,314.1 416.0,316.8 416.2,318.7 416.4,319.8 416.7,320.3 416.9,321.1 417.1,324.8 417.5,326.6 417.8,325.9 418.2,328.2 418.5,329.5 418.9,332.2 419.2,331.0 419.6,332.3 419.9,335.9 420.3,336.6 420.7,338.1 421.0,340.2 421.2,341.0 421.5,342.7 421.8,342.9 422.2,344.0 422.5,345.4 422.8,347.7 423.1,349.9 423.4,350.5 423.8,352.0 424.2,354.0 424.6,355.6 424.9,356.7 425.3,357.5 425.7,359.3 426.1,360.3 426.9,361.9 427.7,362.9 428.8,363.1 430.0,364.4 431.3,364.9 432.8,365.5 434.2,366.2 435.6,366.6 437.1,367.1 438.5,367.8 439.7,367.9 441.5,369.0 443.3,369.5 445.1,369.5 447.0,369.4 448.4,369.5" fill="none" stroke="#111" stroke-width="1.3" stroke-linejoin="round" stroke-linecap="butt"/>
<polygon points="474.3,370.4 474.3,369.4 475.0,368.7 475.9,367.9 477.0,366.7 477.9,365.3 478.3,364.2 478.8,363.3 479.2,361.7 479.5,360.8 479.9,358.6 480.3,357.4 480.6,355.9 480.8,354.4 481.1,354.2 481.3,352.1 481.5,351.8 481.7,350.8 481.9,347.7 482.1,347.9 482.3,346.1 482.5,344.1 482.6,341.0 482.8,340.9 482.9,340.0 483.1,337.7 483.2,336.0 483.3,334.8 483.5,333.1 483.6,333.1 483.7,330.4 483.9,329.2 484.0,328.4 484.2,328.0 484.3,324.9 484.5,322.5 484.7,323.5 484.9,321.5 485.1,319.8 485.3,317.7 485.5,315.5 485.7,314.0 485.9,313.3 486.1,312.7 486.7,309.1 487.3,309.2 487.9,308.9 488.3,307.7 488.6,311.6 489.0,312.4 489.3,315.2 489.7,314.6 490.1,314.7 490.5,311.8 491.0,310.3 491.5,309.2 492.0,308.6 492.5,310.5 493.1,312.6 493.6,314.9 494.2,316.1 495.5,318.2 496.9,318.7 497.8,316.7 498.7,314.5 499.6,314.7 499.9,316.6 500.3,317.1 500.6,318.0 501.0,320.0 501.3,319.9 501.7,321.2 502.0,322.8 502.3,324.4 502.5,325.5 502.8,328.5 503.0,330.8 503.2,329.9 503.4,333.0 503.6,335.1 503.8,336.1 504.0,335.8 504.2,338.6 504.4,338.9 504.6,340.1 504.8,341.1 505.0,344.0 505.2,346.5 505.4,345.7 505.6,347.2 505.8,349.2 506.0,349.8 506.2,352.2 506.4,354.1 506.6,355.1 506.8,355.8 507.1,357.3 507.3,358.9 507.5,360.7 507.8,362.1 508.2,363.3 508.7,364.5 509.3,366.1 509.8,367.5 510.2,368.4 510.5,369.4 510.5,370.4" fill="#ebebeb" stroke-linejoin="round" stroke-linecap="butt"/>
<polyline points="474.3,369.4 475.0,368.7 475.9,367.9 477.0,366.7 477.9,365.3 478.3,364.2 478.8,363.3 479.2,361.7 479.5,360.8 479.9,358.6 480.3,357.4 480.6,355.9 480.8,354.4 481.1,354.2 481.3,352.1 481.5,351.8 481.7,350.8 481.9,347.7 482.1,347.9 482.3,346.1 482.5,344.1 482.6,341.0 482.8,340.9 482.9,340.0 483.1,337.7 483.2,336.0 483.3,334.8 483.5,333.1 483.6,333.1 483.7,330.4 483.9,329.2 484.0,328.4 484.2,328.0 484.3,324.9 484.5,322.5 484.7,323.5 484.9,321.5 485.1,319.8 485.3,317.7 485.5,315.5 485.7,314.0 485.9,313.3 486.1,312.7 486.7,309.1 487.3,309.2 487.9,308.9 488.3,307.7 488.6,311.6 489.0,312.4 489.3,315.2 489.7,314.6 490.1,314.7 490.5,311.8 491.0,310.3 491.5,309.2 492.0,308.6 492.5,310.5 493.1,312.6 493.6,314.9 494.2,316.1 495.5,318.2 496.9,318.7 497.8,316.7 498.7,314.5 499.6,314.7 499.9,316.6 500.3,317.1 500.6,318.0 501.0,320.0 501.3,319.9 501.7,321.2 502.0,322.8 502.3,324.4 502.5,325.5 502.8,328.5 503.0,330.8 503.2,329.9 503.4,333.0 503.6,335.1 503.8,336.1 504.0,335.8 504.2,338.6 504.4,338.9 504.6,340.1 504.8,341.1 505.0,344.0 505.2,346.5 505.4,345.7 505.6,347.2 505.8,349.2 506.0,349.8 506.2,352.2 506.4,354.1 506.6,355.1 506.8,355.8 507.1,357.3 507.3,358.9 507.5,360.7 507.8,362.1 508.2,363.3 508.7,364.5 509.3,366.1 509.8,367.5 510.2,368.4 510.5,369.4" fill="none" stroke="#aaa" stroke-width="1.1" stroke-linejoin="round" stroke-linecap="butt"/>
<polyline points="463.5,367.1 464.4,366.5 465.8,365.7 467.1,364.7 468.0,363.3 468.9,362.8 469.8,361.6 470.7,360.1 471.2,358.4 471.8,357.1 472.3,356.3 472.8,355.6 473.3,353.3 473.8,352.3 474.3,350.4 474.6,350.3 475.0,349.3 475.3,346.5 475.6,346.6 475.8,342.5 476.1,343.1 476.4,341.9 476.7,338.5 477.0,338.8 477.4,336.8 477.8,336.2 478.2,332.6 478.6,332.0 479.0,331.7 479.4,330.1 479.7,328.6 480.3,328.4 480.9,332.7 481.5,332.6 482.9,334.0 484.3,329.9 484.6,330.9 484.9,329.7 485.1,328.7 485.3,324.8 485.5,324.3 485.8,322.0 486.1,322.6 486.4,320.1 486.8,320.2 487.2,316.9 487.6,316.5 488.0,315.4 488.4,312.6 488.8,313.0 489.5,314.7 490.1,315.5 490.8,317.1 491.5,317.6 492.0,318.2 492.6,314.6 493.1,313.5 493.7,311.7 494.2,311.1 494.5,310.5 494.9,313.0 495.2,315.2 495.5,315.1 495.9,316.9 496.2,320.3 496.6,320.9 496.9,321.3 497.6,322.2 498.2,325.5 498.9,325.5 499.6,327.2 500.1,327.9 500.7,330.2 501.2,331.9 501.8,332.3 502.3,333.3 502.6,337.1 503.0,338.2 503.3,337.1 503.7,340.0 504.1,341.8 504.4,342.5 504.8,344.8 505.1,346.7 505.5,347.0 505.9,347.9 506.3,348.8 506.6,350.2 507.0,351.3 507.4,352.5 507.8,353.9 508.3,356.6 508.9,357.6 509.4,359.5 510.0,360.9 510.5,362.0 511.2,362.7 511.9,364.5 512.5,365.0 513.2,366.3 514.2,367.6 515.2,368.7 515.9,369.4" fill="none" stroke="#222" stroke-width="1.1" stroke-dasharray="1.3,1.3" stroke-linejoin="round" stroke-linecap="butt"/>
<polyline points="450.5,366.2 451.4,366.1 452.6,366.5 454.1,366.5 455.6,366.6 457.0,366.8 458.3,366.9 459.7,367.0 461.1,367.1 462.4,367.1 463.5,367.0 464.9,366.9 466.0,366.2 467.1,365.4 468.0,364.5 469.0,363.4 469.9,362.0 470.7,359.6 471.1,358.5 471.5,358.0 471.9,356.5 472.3,354.5 472.7,354.0 473.0,353.0 473.4,351.5 473.7,348.9 474.1,347.8 474.4,345.7 474.8,347.1 475.1,343.6 475.4,343.6 475.8,341.6 476.1,340.3 476.3,338.9 476.6,338.4 476.9,336.4 477.1,334.2 477.4,332.3 477.6,331.9 477.9,331.7 478.1,328.2 478.4,328.4 478.6,327.0 478.8,324.5 479.1,323.1 479.4,323.0 479.6,321.0 479.9,319.8 480.1,318.8 480.3,316.6 480.6,317.1 480.9,315.2 481.3,313.3 481.6,311.0 481.9,310.8 482.2,309.7 482.5,308.4 482.8,307.4 483.0,308.4 483.2,309.9 483.5,311.5 483.7,315.1 483.8,315.8 484.0,316.0 484.1,319.2 484.2,319.7 484.3,321.5 484.5,323.0 484.6,324.0 484.8,325.0 484.9,327.7 485.1,326.7 485.2,329.6 485.4,331.5 485.5,331.7 485.7,334.1 485.8,333.7 486.0,335.8 486.1,336.7 486.3,338.4 486.5,340.6 486.7,340.3 486.8,342.0 487.0,344.6 487.3,344.7 487.6,345.8 487.9,349.4 488.2,349.6 488.5,349.6 488.8,351.8 489.1,351.9 490.0,354.1 491.0,355.7 492.1,354.6 493.3,352.5 494.7,351.2 496.0,350.0 498.2,348.6 499.1,348.4 500.0,351.4 500.4,352.5 500.9,353.1 501.3,354.6 501.8,356.4 502.4,357.6 502.9,359.0 503.6,360.9 504.2,362.1 505.0,362.8 505.9,364.1 506.9,365.5 508.2,366.3 509.8,366.7 511.4,367.0 512.8,367.4 514.2,368.3 515.6,368.8 516.5,369.0" fill="none" stroke="#111" stroke-width="1.3" stroke-linejoin="round" stroke-linecap="butt"/>
<line x1="244.1" y1="235.6" x2="310.4" y2="235.6" stroke="#111" stroke-width="1.2" />
<line x1="244.1" y1="370.4" x2="310.4" y2="370.4" stroke="#111" stroke-width="1.2" />
<line x1="244.1" y1="302.4" x2="310.4" y2="302.4" stroke="#111" stroke-width="2.0" />
<line x1="244.1" y1="235.6" x2="244.1" y2="370.4" stroke="#111" stroke-width="1.0" />
<line x1="310.4" y1="235.6" x2="310.4" y2="370.4" stroke="#111" stroke-width="1.0" />
<line x1="313.3" y1="235.6" x2="379.5" y2="235.6" stroke="#111" stroke-width="1.2" />
<line x1="313.3" y1="370.4" x2="379.5" y2="370.4" stroke="#111" stroke-width="1.2" />
<line x1="313.3" y1="302.4" x2="379.5" y2="302.4" stroke="#111" stroke-width="2.0" />
<line x1="313.3" y1="235.6" x2="313.3" y2="370.4" stroke="#111" stroke-width="1.0" />
<line x1="379.5" y1="235.6" x2="379.5" y2="370.4" stroke="#111" stroke-width="1.0" />
<line x1="381.6" y1="235.6" x2="448.5" y2="235.6" stroke="#111" stroke-width="1.2" />
<line x1="381.6" y1="370.4" x2="448.5" y2="370.4" stroke="#111" stroke-width="1.2" />
<line x1="381.6" y1="302.4" x2="448.5" y2="302.4" stroke="#111" stroke-width="2.0" />
<line x1="381.6" y1="235.6" x2="381.6" y2="370.4" stroke="#111" stroke-width="1.0" />
<line x1="448.5" y1="235.6" x2="448.5" y2="370.4" stroke="#111" stroke-width="1.0" />
<line x1="450.4" y1="235.6" x2="517.4" y2="235.6" stroke="#111" stroke-width="1.2" />
<line x1="450.4" y1="370.4" x2="517.4" y2="370.4" stroke="#111" stroke-width="1.2" />
<line x1="450.4" y1="302.4" x2="517.4" y2="302.4" stroke="#111" stroke-width="2.0" />
<line x1="450.4" y1="235.6" x2="450.4" y2="370.4" stroke="#111" stroke-width="1.0" />
<line x1="517.4" y1="235.6" x2="517.4" y2="370.4" stroke="#111" stroke-width="1.0" />
<line x1="245.6" y1="370.4" x2="245.6" y2="371.7" stroke="#777" stroke-width="0.8" />
<line x1="250.0" y1="370.4" x2="250.0" y2="371.7" stroke="#777" stroke-width="0.8" />
<line x1="254.4" y1="370.4" x2="254.4" y2="371.7" stroke="#777" stroke-width="0.8" />
<line x1="258.8" y1="370.4" x2="258.8" y2="371.7" stroke="#777" stroke-width="0.8" />
<line x1="263.2" y1="370.4" x2="263.2" y2="371.7" stroke="#777" stroke-width="0.8" />
<line x1="267.59999999999997" y1="370.4" x2="267.59999999999997" y2="371.7" stroke="#777" stroke-width="0.8" />
<line x1="271.99999999999994" y1="370.4" x2="271.99999999999994" y2="371.7" stroke="#777" stroke-width="0.8" />
<line x1="276.3999999999999" y1="370.4" x2="276.3999999999999" y2="371.7" stroke="#777" stroke-width="0.8" />
<line x1="280.7999999999999" y1="370.4" x2="280.7999999999999" y2="371.7" stroke="#777" stroke-width="0.8" />
<line x1="285.1999999999999" y1="370.4" x2="285.1999999999999" y2="371.7" stroke="#777" stroke-width="0.8" />
<line x1="289.59999999999985" y1="370.4" x2="289.59999999999985" y2="371.7" stroke="#777" stroke-width="0.8" />
<line x1="293.99999999999983" y1="370.4" x2="293.99999999999983" y2="371.7" stroke="#777" stroke-width="0.8" />
<line x1="298.3999999999998" y1="370.4" x2="298.3999999999998" y2="371.7" stroke="#777" stroke-width="0.8" />
<line x1="302.7999999999998" y1="370.4" x2="302.7999999999998" y2="371.7" stroke="#777" stroke-width="0.8" />
<line x1="307.19999999999976" y1="370.4" x2="307.19999999999976" y2="371.7" stroke="#777" stroke-width="0.8" />
<line x1="314.8" y1="370.4" x2="314.8" y2="371.7" stroke="#777" stroke-width="0.8" />
<line x1="319.2" y1="370.4" x2="319.2" y2="371.7" stroke="#777" stroke-width="0.8" />
<line x1="323.59999999999997" y1="370.4" x2="323.59999999999997" y2="371.7" stroke="#777" stroke-width="0.8" />
<line x1="327.99999999999994" y1="370.4" x2="327.99999999999994" y2="371.7" stroke="#777" stroke-width="0.8" />
<line x1="332.3999999999999" y1="370.4" x2="332.3999999999999" y2="371.7" stroke="#777" stroke-width="0.8" />
<line x1="336.7999999999999" y1="370.4" x2="336.7999999999999" y2="371.7" stroke="#777" stroke-width="0.8" />
<line x1="341.1999999999999" y1="370.4" x2="341.1999999999999" y2="371.7" stroke="#777" stroke-width="0.8" />
<line x1="345.59999999999985" y1="370.4" x2="345.59999999999985" y2="371.7" stroke="#777" stroke-width="0.8" />
<line x1="349.99999999999983" y1="370.4" x2="349.99999999999983" y2="371.7" stroke="#777" stroke-width="0.8" />
<line x1="354.3999999999998" y1="370.4" x2="354.3999999999998" y2="371.7" stroke="#777" stroke-width="0.8" />
<line x1="358.7999999999998" y1="370.4" x2="358.7999999999998" y2="371.7" stroke="#777" stroke-width="0.8" />
<line x1="363.19999999999976" y1="370.4" x2="363.19999999999976" y2="371.7" stroke="#777" stroke-width="0.8" />
<line x1="367.59999999999974" y1="370.4" x2="367.59999999999974" y2="371.7" stroke="#777" stroke-width="0.8" />
<line x1="371.9999999999997" y1="370.4" x2="371.9999999999997" y2="371.7" stroke="#777" stroke-width="0.8" />
<line x1="376.3999999999997" y1="370.4" x2="376.3999999999997" y2="371.7" stroke="#777" stroke-width="0.8" />
<line x1="383.1" y1="370.4" x2="383.1" y2="371.7" stroke="#777" stroke-width="0.8" />
<line x1="387.5" y1="370.4" x2="387.5" y2="371.7" stroke="#777" stroke-width="0.8" />
<line x1="391.9" y1="370.4" x2="391.9" y2="371.7" stroke="#777" stroke-width="0.8" />
<line x1="396.29999999999995" y1="370.4" x2="396.29999999999995" y2="371.7" stroke="#777" stroke-width="0.8" />
<line x1="400.69999999999993" y1="370.4" x2="400.69999999999993" y2="371.7" stroke="#777" stroke-width="0.8" />
<line x1="405.0999999999999" y1="370.4" x2="405.0999999999999" y2="371.7" stroke="#777" stroke-width="0.8" />
<line x1="409.4999999999999" y1="370.4" x2="409.4999999999999" y2="371.7" stroke="#777" stroke-width="0.8" />
<line x1="413.89999999999986" y1="370.4" x2="413.89999999999986" y2="371.7" stroke="#777" stroke-width="0.8" />
<line x1="418.29999999999984" y1="370.4" x2="418.29999999999984" y2="371.7" stroke="#777" stroke-width="0.8" />
<line x1="422.6999999999998" y1="370.4" x2="422.6999999999998" y2="371.7" stroke="#777" stroke-width="0.8" />
<line x1="427.0999999999998" y1="370.4" x2="427.0999999999998" y2="371.7" stroke="#777" stroke-width="0.8" />
<line x1="431.4999999999998" y1="370.4" x2="431.4999999999998" y2="371.7" stroke="#777" stroke-width="0.8" />
<line x1="435.89999999999975" y1="370.4" x2="435.89999999999975" y2="371.7" stroke="#777" stroke-width="0.8" />
<line x1="440.2999999999997" y1="370.4" x2="440.2999999999997" y2="371.7" stroke="#777" stroke-width="0.8" />
<line x1="444.6999999999997" y1="370.4" x2="444.6999999999997" y2="371.7" stroke="#777" stroke-width="0.8" />
<line x1="451.9" y1="370.4" x2="451.9" y2="371.7" stroke="#777" stroke-width="0.8" />
<line x1="456.29999999999995" y1="370.4" x2="456.29999999999995" y2="371.7" stroke="#777" stroke-width="0.8" />
<line x1="460.69999999999993" y1="370.4" x2="460.69999999999993" y2="371.7" stroke="#777" stroke-width="0.8" />
<line x1="465.0999999999999" y1="370.4" x2="465.0999999999999" y2="371.7" stroke="#777" stroke-width="0.8" />
<line x1="469.4999999999999" y1="370.4" x2="469.4999999999999" y2="371.7" stroke="#777" stroke-width="0.8" />
<line x1="473.89999999999986" y1="370.4" x2="473.89999999999986" y2="371.7" stroke="#777" stroke-width="0.8" />
<line x1="478.29999999999984" y1="370.4" x2="478.29999999999984" y2="371.7" stroke="#777" stroke-width="0.8" />
<line x1="482.6999999999998" y1="370.4" x2="482.6999999999998" y2="371.7" stroke="#777" stroke-width="0.8" />
<line x1="487.0999999999998" y1="370.4" x2="487.0999999999998" y2="371.7" stroke="#777" stroke-width="0.8" />
<line x1="491.4999999999998" y1="370.4" x2="491.4999999999998" y2="371.7" stroke="#777" stroke-width="0.8" />
<line x1="495.89999999999975" y1="370.4" x2="495.89999999999975" y2="371.7" stroke="#777" stroke-width="0.8" />
<line x1="500.2999999999997" y1="370.4" x2="500.2999999999997" y2="371.7" stroke="#777" stroke-width="0.8" />
<line x1="504.6999999999997" y1="370.4" x2="504.6999999999997" y2="371.7" stroke="#777" stroke-width="0.8" />
<line x1="509.0999999999997" y1="370.4" x2="509.0999999999997" y2="371.7" stroke="#777" stroke-width="0.8" />
<line x1="513.4999999999997" y1="370.4" x2="513.4999999999997" y2="371.7" stroke="#777" stroke-width="0.8" />
<line x1="241.9" y1="238.79999999999998" x2="244.1" y2="238.79999999999998" stroke="#333" stroke-width="1" />
<line x1="241.9" y1="305.59999999999997" x2="244.1" y2="305.59999999999997" stroke="#333" stroke-width="1" />
<line x1="241.9" y1="251.39999999999998" x2="244.1" y2="251.39999999999998" stroke="#333" stroke-width="1" />
<line x1="241.9" y1="318.2" x2="244.1" y2="318.2" stroke="#333" stroke-width="1" />
<line x1="241.9" y1="264.0" x2="244.1" y2="264.0" stroke="#333" stroke-width="1" />
<line x1="241.9" y1="330.79999999999995" x2="244.1" y2="330.79999999999995" stroke="#333" stroke-width="1" />
<line x1="241.9" y1="276.59999999999997" x2="244.1" y2="276.59999999999997" stroke="#333" stroke-width="1" />
<line x1="241.9" y1="343.4" x2="244.1" y2="343.4" stroke="#333" stroke-width="1" />
<line x1="241.9" y1="289.2" x2="244.1" y2="289.2" stroke="#333" stroke-width="1" />
<line x1="241.9" y1="355.99999999999994" x2="244.1" y2="355.99999999999994" stroke="#333" stroke-width="1" />
</g></defs>
<use href="#content"/>
<use href="#content" x="0.5" y="0" opacity="0.1429"/>
<use href="#content" x="-0.5" y="0" opacity="0.1250"/>
<use href="#content" x="0" y="0.5" opacity="0.1111"/>
<use href="#content" x="0" y="-0.5" opacity="0.1000"/>
</svg>
</div></body></html>
